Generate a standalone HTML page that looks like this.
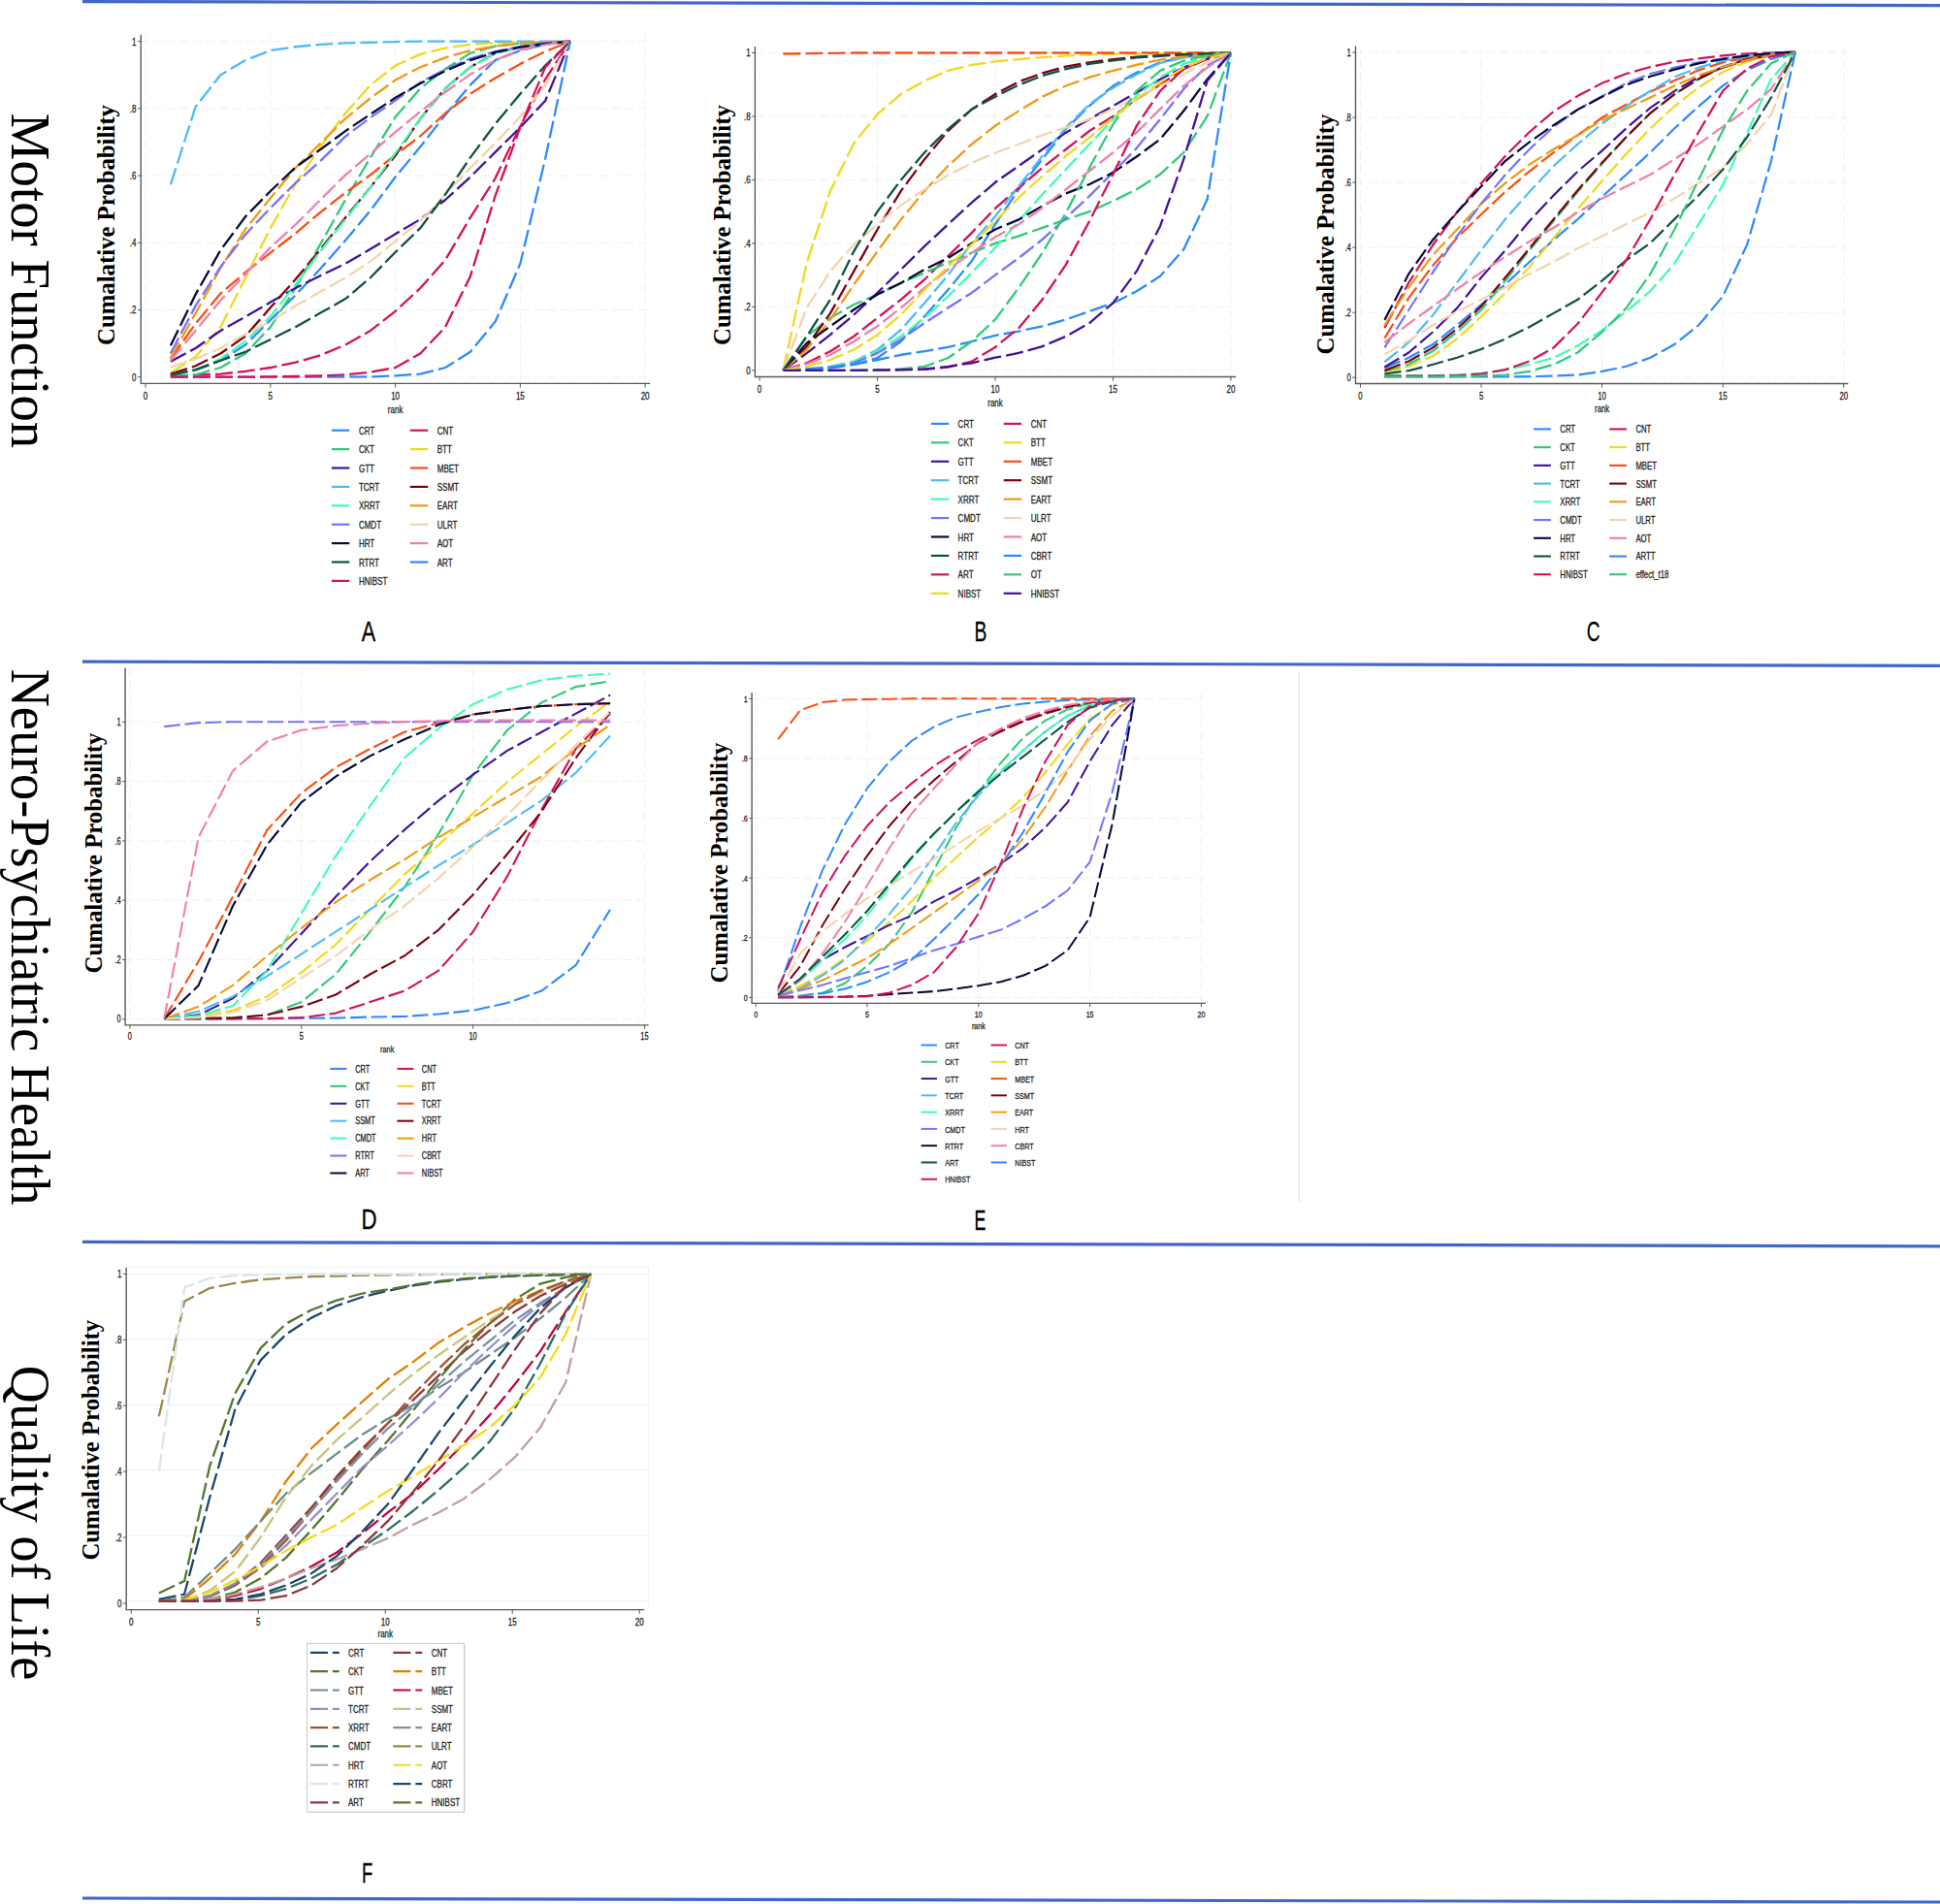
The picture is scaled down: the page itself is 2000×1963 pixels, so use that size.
<!DOCTYPE html>
<html lang="en"><head><meta charset="utf-8"><title>SUCRA cumulative probability plots</title>
<style>html,body{margin:0;padding:0;background:#fff}svg{display:block}</style></head>
<body>
<svg width="2000" height="1963" viewBox="0 0 2000 1963">
<rect width="2000" height="1963" fill="#ffffff"/>
<line x1="85" y1="1.6" x2="2000" y2="5.7" stroke="#4067c8" stroke-width="3.2"/>
<line x1="85" y1="682.1" x2="2000" y2="686.4" stroke="#4067c8" stroke-width="3.2"/>
<line x1="85" y1="1280.4" x2="2000" y2="1284.8" stroke="#4067c8" stroke-width="3.2"/>
<line x1="85" y1="1957.0" x2="2000" y2="1961.0" stroke="#4067c8" stroke-width="3.2"/>
<line x1="1339.2" y1="693.7" x2="1339.2" y2="1239" stroke="#dedede" stroke-width="1.1"/>
<text transform="translate(12.3,289.5) rotate(90) scale(1,1.045)" font-family='"Liberation Serif", serif' font-size="54.5" text-anchor="middle" textLength="345.3" lengthAdjust="spacingAndGlyphs" fill="#000">Motor Function</text>
<text transform="translate(12.3,966) rotate(90) scale(1,1.045)" font-family='"Liberation Serif", serif' font-size="54.5" text-anchor="middle" textLength="552.6" lengthAdjust="spacingAndGlyphs" fill="#000">Neuro-Psychiatric Health</text>
<text transform="translate(12.3,1570) rotate(90) scale(1,1.045)" font-family='"Liberation Serif", serif' font-size="54.5" text-anchor="middle" textLength="324.3" lengthAdjust="spacingAndGlyphs" fill="#000">Quality of Life</text>
<g id="chartA">
<line x1="145.3" y1="388.7" x2="667.9" y2="388.7" stroke="#f0f0f0" stroke-width="1" stroke-dasharray="9 4.5"/>
<line x1="145.3" y1="319.5" x2="667.9" y2="319.5" stroke="#f0f0f0" stroke-width="1" stroke-dasharray="9 4.5"/>
<line x1="145.3" y1="250.3" x2="667.9" y2="250.3" stroke="#f0f0f0" stroke-width="1" stroke-dasharray="9 4.5"/>
<line x1="145.3" y1="181.1" x2="667.9" y2="181.1" stroke="#f0f0f0" stroke-width="1" stroke-dasharray="9 4.5"/>
<line x1="145.3" y1="111.9" x2="667.9" y2="111.9" stroke="#f0f0f0" stroke-width="1" stroke-dasharray="9 4.5"/>
<line x1="145.3" y1="42.7" x2="667.9" y2="42.7" stroke="#f0f0f0" stroke-width="1" stroke-dasharray="9 4.5"/>
<line x1="150.1" y1="35.7" x2="150.1" y2="395.4" stroke="#f0f0f0" stroke-width="1" stroke-dasharray="9 4.5"/>
<line x1="278.85" y1="35.7" x2="278.85" y2="395.4" stroke="#f0f0f0" stroke-width="1" stroke-dasharray="9 4.5"/>
<line x1="407.6" y1="35.7" x2="407.6" y2="395.4" stroke="#f0f0f0" stroke-width="1" stroke-dasharray="9 4.5"/>
<line x1="536.35" y1="35.7" x2="536.35" y2="395.4" stroke="#f0f0f0" stroke-width="1" stroke-dasharray="9 4.5"/>
<line x1="665.1" y1="35.7" x2="665.1" y2="395.4" stroke="#f0f0f0" stroke-width="1" stroke-dasharray="9 4.5"/>
<path d="M145.3 35.7 V395.4 H670.3" fill="none" stroke="#5a5a5a" stroke-width="1.4"/>
<line x1="142.01" y1="388.7" x2="145.3" y2="388.7" stroke="#5a5a5a" stroke-width="1"/>
<text transform="translate(140.51,392.62) scale(0.73,1)" font-family='"Liberation Sans", sans-serif' font-size="10.99" text-anchor="end" fill="#1c1c1c" stroke="#1c1c1c" stroke-width="0.28">0</text>
<line x1="142.01" y1="319.5" x2="145.3" y2="319.5" stroke="#5a5a5a" stroke-width="1"/>
<text transform="translate(140.51,323.42) scale(0.73,1)" font-family='"Liberation Sans", sans-serif' font-size="10.99" text-anchor="end" fill="#1c1c1c" stroke="#1c1c1c" stroke-width="0.28">.2</text>
<line x1="142.01" y1="250.3" x2="145.3" y2="250.3" stroke="#5a5a5a" stroke-width="1"/>
<text transform="translate(140.51,254.22) scale(0.73,1)" font-family='"Liberation Sans", sans-serif' font-size="10.99" text-anchor="end" fill="#1c1c1c" stroke="#1c1c1c" stroke-width="0.28">.4</text>
<line x1="142.01" y1="181.1" x2="145.3" y2="181.1" stroke="#5a5a5a" stroke-width="1"/>
<text transform="translate(140.51,185.02) scale(0.73,1)" font-family='"Liberation Sans", sans-serif' font-size="10.99" text-anchor="end" fill="#1c1c1c" stroke="#1c1c1c" stroke-width="0.28">.6</text>
<line x1="142.01" y1="111.9" x2="145.3" y2="111.9" stroke="#5a5a5a" stroke-width="1"/>
<text transform="translate(140.51,115.82) scale(0.73,1)" font-family='"Liberation Sans", sans-serif' font-size="10.99" text-anchor="end" fill="#1c1c1c" stroke="#1c1c1c" stroke-width="0.28">.8</text>
<line x1="142.01" y1="42.7" x2="145.3" y2="42.7" stroke="#5a5a5a" stroke-width="1"/>
<text transform="translate(140.51,46.62) scale(0.73,1)" font-family='"Liberation Sans", sans-serif' font-size="10.99" text-anchor="end" fill="#1c1c1c" stroke="#1c1c1c" stroke-width="0.28">1</text>
<line x1="150.1" y1="395.4" x2="150.1" y2="399.59" stroke="#5a5a5a" stroke-width="1"/>
<text transform="translate(150.1,411.91) scale(0.73,1)" font-family='"Liberation Sans", sans-serif' font-size="10.99" text-anchor="middle" fill="#1c1c1c" stroke="#1c1c1c" stroke-width="0.28">0</text>
<line x1="278.85" y1="395.4" x2="278.85" y2="399.59" stroke="#5a5a5a" stroke-width="1"/>
<text transform="translate(278.85,411.91) scale(0.73,1)" font-family='"Liberation Sans", sans-serif' font-size="10.99" text-anchor="middle" fill="#1c1c1c" stroke="#1c1c1c" stroke-width="0.28">5</text>
<line x1="407.6" y1="395.4" x2="407.6" y2="399.59" stroke="#5a5a5a" stroke-width="1"/>
<text transform="translate(407.6,411.91) scale(0.73,1)" font-family='"Liberation Sans", sans-serif' font-size="10.99" text-anchor="middle" fill="#1c1c1c" stroke="#1c1c1c" stroke-width="0.28">10</text>
<line x1="536.35" y1="395.4" x2="536.35" y2="399.59" stroke="#5a5a5a" stroke-width="1"/>
<text transform="translate(536.35,411.91) scale(0.73,1)" font-family='"Liberation Sans", sans-serif' font-size="10.99" text-anchor="middle" fill="#1c1c1c" stroke="#1c1c1c" stroke-width="0.28">15</text>
<line x1="665.1" y1="395.4" x2="665.1" y2="399.59" stroke="#5a5a5a" stroke-width="1"/>
<text transform="translate(665.1,411.91) scale(0.73,1)" font-family='"Liberation Sans", sans-serif' font-size="10.99" text-anchor="middle" fill="#1c1c1c" stroke="#1c1c1c" stroke-width="0.28">20</text>
<text transform="translate(407.6,425.96) scale(0.74,1)" font-family='"Liberation Sans", sans-serif' font-size="10.79" text-anchor="middle" fill="#1c1c1c" stroke="#1c1c1c" stroke-width="0.28">rank</text>
<polyline points="175.85,386.28 201.6,381.78 227.35,371.75 253.1,355.48 278.85,329.88 304.6,304.28 330.35,276.94 356.1,247.88 381.85,217.08 407.6,182.48 433.35,151.34 459.1,118.47 484.85,87.68 510.6,62.08 536.35,52.04 562.1,45.81 587.85,42.7" fill="none" stroke="#2c8aff" stroke-width="2.3" stroke-dasharray="17.96 5.09" stroke-linejoin="round"/>
<polyline points="175.85,387.32 201.6,386.62 227.35,385.59 253.1,382.82 278.85,379.01 304.6,373.65 330.35,366.21 356.1,355.48 381.85,340.95 407.6,320.88 433.35,297.01 459.1,267.95 484.85,224.35 510.6,183.87 536.35,129.89 562.1,81.8 587.85,42.7" fill="none" stroke="#d41159" stroke-width="2.3" stroke-dasharray="17.96 5.09" stroke-linejoin="round"/>
<polyline points="175.85,388.01 201.6,386.28 227.35,379.01 253.1,364.48 278.85,337.15 304.6,297.01 330.35,251.68 356.1,206.01 381.85,162.42 407.6,120.55 433.35,91.14 459.1,71.07 484.85,54.81 510.6,47.54 536.35,44.43 562.1,43.39 587.85,42.7" fill="none" stroke="#30ca78" stroke-width="2.3" stroke-dasharray="17.96 5.09" stroke-linejoin="round"/>
<polyline points="175.85,384.55 201.6,367.94 227.35,337.15 253.1,286.28 278.85,235.08 304.6,189.75 330.35,151.34 356.1,116.74 381.85,87.68 407.6,67.61 433.35,55.85 459.1,49.62 484.85,45.81 510.6,44.08 536.35,43.39 562.1,43.05 587.85,42.7" fill="none" stroke="#f0d91c" stroke-width="2.3" stroke-dasharray="17.96 5.09" stroke-linejoin="round"/>
<polyline points="175.85,372.78 201.6,358.94 227.35,340.95 253.1,326.42 278.85,311.54 304.6,297.01 330.35,284.21 356.1,271.75 381.85,256.87 407.6,241.3 433.35,226.08 459.1,206.01 484.85,182.48 510.6,156.88 536.35,131.28 562.1,103.94 587.85,42.7" fill="none" stroke="#40129c" stroke-width="2.3" stroke-dasharray="17.96 5.09" stroke-linejoin="round"/>
<polyline points="175.85,370.02 201.6,333.69 227.35,302.55 253.1,280.75 278.85,260.68 304.6,240.61 330.35,218.81 356.1,198.75 381.85,180.41 407.6,159.65 433.35,140.27 459.1,116.74 484.85,96.68 510.6,80.41 536.35,65.88 562.1,53.08 587.85,42.7" fill="none" stroke="#fa4d14" stroke-width="2.3" stroke-dasharray="17.96 5.09" stroke-linejoin="round"/>
<polyline points="175.85,190.44 201.6,110.17 227.35,77.3 253.1,62.08 278.85,52.04 304.6,48.24 330.35,45.81 356.1,44.43 381.85,43.74 407.6,43.05 433.35,42.7 459.1,42.7 484.85,42.7 510.6,42.7 536.35,42.7 562.1,42.7 587.85,42.7" fill="none" stroke="#4dbbf7" stroke-width="2.3" stroke-dasharray="17.96 5.09" stroke-linejoin="round"/>
<polyline points="175.85,385.59 201.6,377.28 227.35,364.48 253.1,346.49 278.85,317.08 304.6,288.01 330.35,257.22 356.1,224.35 381.85,193.21 407.6,160.34 433.35,122.28 459.1,91.14 484.85,69.34 510.6,54.81 536.35,48.58 562.1,44.43 587.85,42.7" fill="none" stroke="#800012" stroke-width="2.3" stroke-dasharray="17.96 5.09" stroke-linejoin="round"/>
<polyline points="175.85,386.97 201.6,381.78 227.35,370.02 253.1,351.68 278.85,326.42 304.6,293.55 330.35,258.95 356.1,226.08 381.85,193.21 407.6,157.92 433.35,122.28 459.1,91.14 484.85,69.34 510.6,54.81 536.35,48.58 562.1,44.43 587.85,42.7" fill="none" stroke="#3dfdb0" stroke-width="2.3" stroke-dasharray="17.96 5.09" stroke-linejoin="round"/>
<polyline points="175.85,368.98 201.6,322.96 227.35,276.25 253.1,236.11 278.85,204.28 304.6,173.14 330.35,147.88 356.1,122.28 381.85,101.17 407.6,82.49 433.35,69.34 459.1,59.31 484.85,52.04 510.6,47.54 536.35,45.12 562.1,43.39 587.85,42.7" fill="none" stroke="#f09a12" stroke-width="2.3" stroke-dasharray="17.96 5.09" stroke-linejoin="round"/>
<polyline points="175.85,364.48 201.6,315.35 227.35,275.21 253.1,241.65 278.85,214.32 304.6,188.71 330.35,165.88 356.1,140.62 381.85,121.24 407.6,103.6 433.35,84.91 459.1,71.42 484.85,60.35 510.6,53.08 536.35,47.89 562.1,44.43 587.85,42.7" fill="none" stroke="#7373ff" stroke-width="2.3" stroke-dasharray="17.96 5.09" stroke-linejoin="round"/>
<polyline points="175.85,378.32 201.6,370.02 227.35,358.94 253.1,344.41 278.85,331.61 304.6,315.35 330.35,300.82 356.1,286.28 381.85,269.68 407.6,248.57 433.35,227.81 459.1,200.48 484.85,173.14 510.6,147.54 536.35,120.2 562.1,87.68 587.85,42.7" fill="none" stroke="#f5d3ab" stroke-width="2.3" stroke-dasharray="17.96 5.09" stroke-linejoin="round"/>
<polyline points="175.85,356.35 201.6,303.58 227.35,257.91 253.1,223.31 278.85,197.02 304.6,172.45 330.35,154.11 356.1,135.08 381.85,117.78 407.6,100.83 433.35,85.95 459.1,73.15 484.85,62.08 510.6,53.77 536.35,48.58 562.1,45.12 587.85,42.7" fill="none" stroke="#060a3c" stroke-width="2.3" stroke-dasharray="17.96 5.09" stroke-linejoin="round"/>
<polyline points="175.85,371.75 201.6,340.95 227.35,309.81 253.1,282.48 278.85,255.14 304.6,231.62 330.35,206.01 356.1,180.41 381.85,158.61 407.6,136.12 433.35,115.01 459.1,94.95 484.85,76.61 510.6,62.08 536.35,51.35 562.1,46.16 587.85,42.7" fill="none" stroke="#f07fa8" stroke-width="2.3" stroke-dasharray="17.96 5.09" stroke-linejoin="round"/>
<polyline points="175.85,386.97 201.6,381.09 227.35,371.75 253.1,362.75 278.85,349.95 304.6,337.15 330.35,322.61 356.1,308.08 381.85,286.28 407.6,259.99 433.35,235.08 459.1,200.48 484.85,162.42 510.6,127.82 536.35,96.68 562.1,67.61 587.85,42.7" fill="none" stroke="#0e5245" stroke-width="2.3" stroke-dasharray="17.96 5.09" stroke-linejoin="round"/>
<polyline points="175.85,388.7 201.6,388.7 227.35,388.7 253.1,388.7 278.85,388.7 304.6,388.7 330.35,388.7 356.1,388.7 381.85,388.35 407.6,387.32 433.35,385.59 459.1,379.01 484.85,362.75 510.6,331.61 536.35,271.75 562.1,163.8 587.85,42.7" fill="none" stroke="#2c8aff" stroke-width="2.3" stroke-dasharray="17.96 5.09" stroke-linejoin="round"/>
<polyline points="175.85,388.7 201.6,388.7 227.35,388.7 253.1,388.7 278.85,388.35 304.6,388.01 330.35,387.32 356.1,386.28 381.85,383.68 407.6,379.01 433.35,364.48 459.1,337.15 484.85,284.9 510.6,201.86 536.35,130.93 562.1,69.34 587.85,42.7" fill="none" stroke="#d41159" stroke-width="2.3" stroke-dasharray="17.96 5.09" stroke-linejoin="round"/>
<line x1="341.9" y1="443.7" x2="360.26" y2="443.7" stroke="#2c8aff" stroke-width="2.2"/>
<text transform="translate(369.9,447.74) scale(0.725,1)" font-family='"Liberation Sans", sans-serif' font-size="11.08" text-anchor="start" fill="#1c1c1c" stroke="#1c1c1c" stroke-width="0.28">CRT</text>
<line x1="422.8" y1="443.7" x2="441.16" y2="443.7" stroke="#d41159" stroke-width="2.2"/>
<text transform="translate(450.7,447.74) scale(0.725,1)" font-family='"Liberation Sans", sans-serif' font-size="11.08" text-anchor="start" fill="#1c1c1c" stroke="#1c1c1c" stroke-width="0.28">CNT</text>
<line x1="341.9" y1="463.1" x2="360.26" y2="463.1" stroke="#30ca78" stroke-width="2.2"/>
<text transform="translate(369.9,467.14) scale(0.725,1)" font-family='"Liberation Sans", sans-serif' font-size="11.08" text-anchor="start" fill="#1c1c1c" stroke="#1c1c1c" stroke-width="0.28">CKT</text>
<line x1="422.8" y1="463.1" x2="441.16" y2="463.1" stroke="#f0d91c" stroke-width="2.2"/>
<text transform="translate(450.7,467.14) scale(0.725,1)" font-family='"Liberation Sans", sans-serif' font-size="11.08" text-anchor="start" fill="#1c1c1c" stroke="#1c1c1c" stroke-width="0.28">BTT</text>
<line x1="341.9" y1="482.5" x2="360.26" y2="482.5" stroke="#40129c" stroke-width="2.2"/>
<text transform="translate(369.9,486.54) scale(0.725,1)" font-family='"Liberation Sans", sans-serif' font-size="11.08" text-anchor="start" fill="#1c1c1c" stroke="#1c1c1c" stroke-width="0.28">GTT</text>
<line x1="422.8" y1="482.5" x2="441.16" y2="482.5" stroke="#fa4d14" stroke-width="2.2"/>
<text transform="translate(450.7,486.54) scale(0.725,1)" font-family='"Liberation Sans", sans-serif' font-size="11.08" text-anchor="start" fill="#1c1c1c" stroke="#1c1c1c" stroke-width="0.28">MBET</text>
<line x1="341.9" y1="501.9" x2="360.26" y2="501.9" stroke="#4dbbf7" stroke-width="2.2"/>
<text transform="translate(369.9,505.94) scale(0.725,1)" font-family='"Liberation Sans", sans-serif' font-size="11.08" text-anchor="start" fill="#1c1c1c" stroke="#1c1c1c" stroke-width="0.28">TCRT</text>
<line x1="422.8" y1="501.9" x2="441.16" y2="501.9" stroke="#800012" stroke-width="2.2"/>
<text transform="translate(450.7,505.94) scale(0.725,1)" font-family='"Liberation Sans", sans-serif' font-size="11.08" text-anchor="start" fill="#1c1c1c" stroke="#1c1c1c" stroke-width="0.28">SSMT</text>
<line x1="341.9" y1="521.3" x2="360.26" y2="521.3" stroke="#3dfdb0" stroke-width="2.2"/>
<text transform="translate(369.9,525.34) scale(0.725,1)" font-family='"Liberation Sans", sans-serif' font-size="11.08" text-anchor="start" fill="#1c1c1c" stroke="#1c1c1c" stroke-width="0.28">XRRT</text>
<line x1="422.8" y1="521.3" x2="441.16" y2="521.3" stroke="#f09a12" stroke-width="2.2"/>
<text transform="translate(450.7,525.34) scale(0.725,1)" font-family='"Liberation Sans", sans-serif' font-size="11.08" text-anchor="start" fill="#1c1c1c" stroke="#1c1c1c" stroke-width="0.28">EART</text>
<line x1="341.9" y1="540.7" x2="360.26" y2="540.7" stroke="#7373ff" stroke-width="2.2"/>
<text transform="translate(369.9,544.74) scale(0.725,1)" font-family='"Liberation Sans", sans-serif' font-size="11.08" text-anchor="start" fill="#1c1c1c" stroke="#1c1c1c" stroke-width="0.28">CMDT</text>
<line x1="422.8" y1="540.7" x2="441.16" y2="540.7" stroke="#f5d3ab" stroke-width="2.2"/>
<text transform="translate(450.7,544.74) scale(0.725,1)" font-family='"Liberation Sans", sans-serif' font-size="11.08" text-anchor="start" fill="#1c1c1c" stroke="#1c1c1c" stroke-width="0.28">ULRT</text>
<line x1="341.9" y1="560.1" x2="360.26" y2="560.1" stroke="#060a3c" stroke-width="2.2"/>
<text transform="translate(369.9,564.14) scale(0.725,1)" font-family='"Liberation Sans", sans-serif' font-size="11.08" text-anchor="start" fill="#1c1c1c" stroke="#1c1c1c" stroke-width="0.28">HRT</text>
<line x1="422.8" y1="560.1" x2="441.16" y2="560.1" stroke="#f07fa8" stroke-width="2.2"/>
<text transform="translate(450.7,564.14) scale(0.725,1)" font-family='"Liberation Sans", sans-serif' font-size="11.08" text-anchor="start" fill="#1c1c1c" stroke="#1c1c1c" stroke-width="0.28">AOT</text>
<line x1="341.9" y1="579.5" x2="360.26" y2="579.5" stroke="#0e5245" stroke-width="2.2"/>
<text transform="translate(369.9,583.54) scale(0.725,1)" font-family='"Liberation Sans", sans-serif' font-size="11.08" text-anchor="start" fill="#1c1c1c" stroke="#1c1c1c" stroke-width="0.28">RTRT</text>
<line x1="422.8" y1="579.5" x2="441.16" y2="579.5" stroke="#2c8aff" stroke-width="2.2"/>
<text transform="translate(450.7,583.54) scale(0.725,1)" font-family='"Liberation Sans", sans-serif' font-size="11.08" text-anchor="start" fill="#1c1c1c" stroke="#1c1c1c" stroke-width="0.28">ART</text>
<line x1="341.9" y1="598.9" x2="360.26" y2="598.9" stroke="#d41159" stroke-width="2.2"/>
<text transform="translate(369.9,602.94) scale(0.725,1)" font-family='"Liberation Sans", sans-serif' font-size="11.08" text-anchor="start" fill="#1c1c1c" stroke="#1c1c1c" stroke-width="0.28">HNIBST</text>
<text transform="translate(379.9,661) scale(0.74,1)" font-family='"Liberation Sans", sans-serif' font-size="29.3" text-anchor="middle" fill="#000" stroke="#000" stroke-width="0.28">A</text>
<text transform="translate(118.4,232.1) rotate(-90)" font-family='"Liberation Serif", serif' font-weight="bold" font-size="24.7" text-anchor="middle" textLength="247.8" lengthAdjust="spacingAndGlyphs" fill="#000">Cumalative Probability</text>
</g>
<g id="chartB">
<line x1="778.4" y1="381.8" x2="1271.7" y2="381.8" stroke="#f0f0f0" stroke-width="1" stroke-dasharray="9 4.5"/>
<line x1="778.4" y1="316.34" x2="1271.7" y2="316.34" stroke="#f0f0f0" stroke-width="1" stroke-dasharray="9 4.5"/>
<line x1="778.4" y1="250.88" x2="1271.7" y2="250.88" stroke="#f0f0f0" stroke-width="1" stroke-dasharray="9 4.5"/>
<line x1="778.4" y1="185.42" x2="1271.7" y2="185.42" stroke="#f0f0f0" stroke-width="1" stroke-dasharray="9 4.5"/>
<line x1="778.4" y1="119.96" x2="1271.7" y2="119.96" stroke="#f0f0f0" stroke-width="1" stroke-dasharray="9 4.5"/>
<line x1="778.4" y1="54.5" x2="1271.7" y2="54.5" stroke="#f0f0f0" stroke-width="1" stroke-dasharray="9 4.5"/>
<line x1="783.1" y1="47.9" x2="783.1" y2="388.5" stroke="#f0f0f0" stroke-width="1" stroke-dasharray="9 4.5"/>
<line x1="904.55" y1="47.9" x2="904.55" y2="388.5" stroke="#f0f0f0" stroke-width="1" stroke-dasharray="9 4.5"/>
<line x1="1026" y1="47.9" x2="1026" y2="388.5" stroke="#f0f0f0" stroke-width="1" stroke-dasharray="9 4.5"/>
<line x1="1147.45" y1="47.9" x2="1147.45" y2="388.5" stroke="#f0f0f0" stroke-width="1" stroke-dasharray="9 4.5"/>
<line x1="1268.9" y1="47.9" x2="1268.9" y2="388.5" stroke="#f0f0f0" stroke-width="1" stroke-dasharray="9 4.5"/>
<path d="M778.4 47.9 V388.5 H1274.1" fill="none" stroke="#5a5a5a" stroke-width="1.4"/>
<line x1="775.1" y1="381.8" x2="778.4" y2="381.8" stroke="#5a5a5a" stroke-width="1"/>
<text transform="translate(773.6,385.73) scale(0.73,1)" font-family='"Liberation Sans", sans-serif' font-size="11.02" text-anchor="end" fill="#1c1c1c" stroke="#1c1c1c" stroke-width="0.28">0</text>
<line x1="775.1" y1="316.34" x2="778.4" y2="316.34" stroke="#5a5a5a" stroke-width="1"/>
<text transform="translate(773.6,320.27) scale(0.73,1)" font-family='"Liberation Sans", sans-serif' font-size="11.02" text-anchor="end" fill="#1c1c1c" stroke="#1c1c1c" stroke-width="0.28">.2</text>
<line x1="775.1" y1="250.88" x2="778.4" y2="250.88" stroke="#5a5a5a" stroke-width="1"/>
<text transform="translate(773.6,254.81) scale(0.73,1)" font-family='"Liberation Sans", sans-serif' font-size="11.02" text-anchor="end" fill="#1c1c1c" stroke="#1c1c1c" stroke-width="0.28">.4</text>
<line x1="775.1" y1="185.42" x2="778.4" y2="185.42" stroke="#5a5a5a" stroke-width="1"/>
<text transform="translate(773.6,189.35) scale(0.73,1)" font-family='"Liberation Sans", sans-serif' font-size="11.02" text-anchor="end" fill="#1c1c1c" stroke="#1c1c1c" stroke-width="0.28">.6</text>
<line x1="775.1" y1="119.96" x2="778.4" y2="119.96" stroke="#5a5a5a" stroke-width="1"/>
<text transform="translate(773.6,123.89) scale(0.73,1)" font-family='"Liberation Sans", sans-serif' font-size="11.02" text-anchor="end" fill="#1c1c1c" stroke="#1c1c1c" stroke-width="0.28">.8</text>
<line x1="775.1" y1="54.5" x2="778.4" y2="54.5" stroke="#5a5a5a" stroke-width="1"/>
<text transform="translate(773.6,58.43) scale(0.73,1)" font-family='"Liberation Sans", sans-serif' font-size="11.02" text-anchor="end" fill="#1c1c1c" stroke="#1c1c1c" stroke-width="0.28">1</text>
<line x1="783.1" y1="388.5" x2="783.1" y2="392.7" stroke="#5a5a5a" stroke-width="1"/>
<text transform="translate(783.1,405.12) scale(0.73,1)" font-family='"Liberation Sans", sans-serif' font-size="11.02" text-anchor="middle" fill="#1c1c1c" stroke="#1c1c1c" stroke-width="0.28">0</text>
<line x1="904.55" y1="388.5" x2="904.55" y2="392.7" stroke="#5a5a5a" stroke-width="1"/>
<text transform="translate(904.55,405.12) scale(0.73,1)" font-family='"Liberation Sans", sans-serif' font-size="11.02" text-anchor="middle" fill="#1c1c1c" stroke="#1c1c1c" stroke-width="0.28">5</text>
<line x1="1026" y1="388.5" x2="1026" y2="392.7" stroke="#5a5a5a" stroke-width="1"/>
<text transform="translate(1026,405.12) scale(0.73,1)" font-family='"Liberation Sans", sans-serif' font-size="11.02" text-anchor="middle" fill="#1c1c1c" stroke="#1c1c1c" stroke-width="0.28">10</text>
<line x1="1147.45" y1="388.5" x2="1147.45" y2="392.7" stroke="#5a5a5a" stroke-width="1"/>
<text transform="translate(1147.45,405.12) scale(0.73,1)" font-family='"Liberation Sans", sans-serif' font-size="11.02" text-anchor="middle" fill="#1c1c1c" stroke="#1c1c1c" stroke-width="0.28">15</text>
<line x1="1268.9" y1="388.5" x2="1268.9" y2="392.7" stroke="#5a5a5a" stroke-width="1"/>
<text transform="translate(1268.9,405.12) scale(0.73,1)" font-family='"Liberation Sans", sans-serif' font-size="11.02" text-anchor="middle" fill="#1c1c1c" stroke="#1c1c1c" stroke-width="0.28">20</text>
<text transform="translate(1026,418.66) scale(0.74,1)" font-family='"Liberation Sans", sans-serif' font-size="10.81" text-anchor="middle" fill="#1c1c1c" stroke="#1c1c1c" stroke-width="0.28">rank</text>
<polyline points="807.39,381.8 831.68,380.82 855.97,379.51 880.26,375.91 904.55,369.04 928.84,352.02 953.13,326.16 977.42,298.67 1001.71,269.21 1026,231.24 1050.29,195.24 1074.58,164.15 1098.87,133.05 1123.16,109.16 1147.45,88.54 1171.74,74.79 1196.03,64.32 1220.32,59.08 1244.61,56.14 1268.9,54.5" fill="none" stroke="#2c8aff" stroke-width="2.3" stroke-dasharray="18 5.1" stroke-linejoin="round"/>
<polyline points="807.39,381.8 831.68,374.27 855.97,362.16 880.26,346.78 904.55,327.8 928.84,308.81 953.13,288.19 977.42,263.97 1001.71,240.08 1026,214.88 1050.29,193.6 1074.58,172.98 1098.87,154 1123.16,135.02 1147.45,119.96 1171.74,102.29 1196.03,87.23 1220.32,71.19 1244.61,61.05 1268.9,54.5" fill="none" stroke="#d41159" stroke-width="2.3" stroke-dasharray="18 5.1" stroke-linejoin="round"/>
<polyline points="807.39,381.8 831.68,346.78 855.97,327.8 880.26,314.05 904.55,303.58 928.84,291.79 953.13,281.32 977.42,270.85 1001.71,260.7 1026,250.88 1050.29,243.35 1074.58,234.84 1098.87,226.33 1123.16,218.15 1147.45,207.35 1171.74,195.24 1196.03,179.69 1220.32,157.27 1244.61,119.96 1268.9,54.5" fill="none" stroke="#30ca78" stroke-width="2.3" stroke-dasharray="18 5.1" stroke-linejoin="round"/>
<polyline points="807.39,381.8 831.68,271.17 855.97,196.88 880.26,147.78 904.55,117.67 928.84,97.05 953.13,83.3 977.42,72.83 1001.71,66.94 1026,63.34 1050.29,61.05 1074.58,59.08 1098.87,57.45 1123.16,56.46 1147.45,55.81 1171.74,55.48 1196.03,55.15 1220.32,54.83 1244.61,54.5 1268.9,54.5" fill="none" stroke="#f0d91c" stroke-width="2.3" stroke-dasharray="18 5.1" stroke-linejoin="round"/>
<polyline points="807.39,381.8 831.68,364.13 855.97,345.14 880.26,324.52 904.55,301.94 928.84,277.88 953.13,253.83 977.42,231.24 1001.71,208.99 1026,188.04 1050.29,171.02 1074.58,154 1098.87,136.65 1123.16,122.91 1147.45,109.16 1171.74,95.41 1196.03,81.67 1220.32,69.56 1244.61,60.06 1268.9,54.5" fill="none" stroke="#40129c" stroke-width="2.3" stroke-dasharray="18 5.1" stroke-linejoin="round"/>
<polyline points="807.39,55.48 831.68,55.15 855.97,54.83 880.26,54.5 904.55,54.5 928.84,54.5 953.13,54.5 977.42,54.5 1001.71,54.5 1026,54.5 1050.29,54.5 1074.58,54.5 1098.87,54.5 1123.16,54.5 1147.45,54.5 1171.74,54.5 1196.03,54.5 1220.32,54.5 1244.61,54.5 1268.9,54.5" fill="none" stroke="#fa4d14" stroke-width="2.3" stroke-dasharray="18 5.1" stroke-linejoin="round"/>
<polyline points="807.39,381.8 831.68,380.82 855.97,377.87 880.26,372.64 904.55,360.53 928.84,339.91 953.13,312.41 977.42,283.61 1001.71,250.88 1026,223.06 1050.29,191.97 1074.58,160.87 1098.87,131.42 1123.16,107.52 1147.45,90.5 1171.74,76.76 1196.03,64.97 1220.32,59.41 1244.61,56.14 1268.9,54.5" fill="none" stroke="#4dbbf7" stroke-width="2.3" stroke-dasharray="18 5.1" stroke-linejoin="round"/>
<polyline points="807.39,381.8 831.68,357.25 855.97,322.89 880.26,279.68 904.55,236.48 928.84,196.88 953.13,164.15 977.42,135.02 1001.71,112.76 1026,97.05 1050.29,84.28 1074.58,75.45 1098.87,68.57 1123.16,64.32 1147.45,61.05 1171.74,58.75 1196.03,57.12 1220.32,56.14 1244.61,55.15 1268.9,54.5" fill="none" stroke="#800012" stroke-width="2.3" stroke-dasharray="18 5.1" stroke-linejoin="round"/>
<polyline points="807.39,381.8 831.68,380.16 855.97,378.53 880.26,372.64 904.55,362.16 928.84,346.78 953.13,327.8 977.42,305.54 1001.71,281.32 1026,255.46 1050.29,227.97 1074.58,200.48 1098.87,174.62 1123.16,148.76 1147.45,122.91 1171.74,98.69 1196.03,79.7 1220.32,65.96 1244.61,58.43 1268.9,54.5" fill="none" stroke="#3dfdb0" stroke-width="2.3" stroke-dasharray="18 5.1" stroke-linejoin="round"/>
<polyline points="807.39,381.8 831.68,360.53 855.97,329.43 880.26,293.43 904.55,259.06 928.84,226.33 953.13,196.88 977.42,171.02 1001.71,148.76 1026,129.78 1050.29,114.4 1074.58,99.67 1098.87,88.54 1123.16,79.7 1147.45,72.83 1171.74,66.94 1196.03,61.7 1220.32,58.43 1244.61,56.14 1268.9,54.5" fill="none" stroke="#f09a12" stroke-width="2.3" stroke-dasharray="18 5.1" stroke-linejoin="round"/>
<polyline points="807.39,381.8 831.68,380.82 855.97,379.18 880.26,374.27 904.55,364.13 928.84,350.05 953.13,333.03 977.42,317.32 1001.71,301.94 1026,283.61 1050.29,265.94 1074.58,246.95 1098.87,224.7 1123.16,202.11 1147.45,177.89 1171.74,152.69 1196.03,122.91 1220.32,91.81 1244.61,67.59 1268.9,54.5" fill="none" stroke="#7373ff" stroke-width="2.3" stroke-dasharray="18 5.1" stroke-linejoin="round"/>
<polyline points="807.39,381.8 831.68,317.32 855.97,279.68 880.26,252.19 904.55,231.24 928.84,211.6 953.13,195.24 977.42,180.51 1001.71,168.07 1026,157.6 1050.29,148.76 1074.58,139.27 1098.87,131.42 1123.16,122.91 1147.45,112.43 1171.74,100.65 1196.03,88.54 1220.32,76.43 1244.61,64.32 1268.9,54.5" fill="none" stroke="#f5d3ab" stroke-width="2.3" stroke-dasharray="18 5.1" stroke-linejoin="round"/>
<polyline points="807.39,381.8 831.68,353.65 855.97,336.31 880.26,319.29 904.55,303.58 928.84,291.79 953.13,277.88 977.42,265.94 1001.71,250.88 1026,236.48 1050.29,226.33 1074.58,212.42 1098.87,199.49 1123.16,190 1147.45,177.89 1171.74,161.53 1196.03,143.53 1220.32,114.23 1244.61,81.67 1268.9,54.5" fill="none" stroke="#060a3c" stroke-width="2.3" stroke-dasharray="18 5.1" stroke-linejoin="round"/>
<polyline points="807.39,381.8 831.68,375.25 855.97,365.76 880.26,352.02 904.55,336.31 928.84,317.32 953.13,296.7 977.42,277.88 1001.71,260.7 1026,244.33 1050.29,231.24 1074.58,214.22 1098.87,195.24 1123.16,176.26 1147.45,157.27 1171.74,136.65 1196.03,112.43 1220.32,88.54 1244.61,69.56 1268.9,54.5" fill="none" stroke="#f07fa8" stroke-width="2.3" stroke-dasharray="18 5.1" stroke-linejoin="round"/>
<polyline points="807.39,381.8 831.68,346.78 855.97,308.81 880.26,259.06 904.55,218.15 928.84,185.42 953.13,157.27 977.42,133.05 1001.71,112.76 1026,99.67 1050.29,87.56 1074.58,78.07 1098.87,71.19 1123.16,65.96 1147.45,62.36 1171.74,59.41 1196.03,57.77 1220.32,56.46 1244.61,55.48 1268.9,54.5" fill="none" stroke="#0e5245" stroke-width="2.3" stroke-dasharray="18 5.1" stroke-linejoin="round"/>
<polyline points="807.39,381.8 831.68,380.49 855.97,378.53 880.26,375.91 904.55,371 928.84,365.76 953.13,362.16 977.42,357.91 1001.71,352.02 1026,345.8 1050.29,341.54 1074.58,336.31 1098.87,329.43 1123.16,320.92 1147.45,312.41 1171.74,300.3 1196.03,284.76 1220.32,257.1 1244.61,205.55 1268.9,54.5" fill="none" stroke="#2c8aff" stroke-width="2.3" stroke-dasharray="18 5.1" stroke-linejoin="round"/>
<polyline points="807.39,381.8 831.68,381.8 855.97,381.8 880.26,381.8 904.55,381.8 928.84,381.47 953.13,380.82 977.42,378.53 1001.71,372.64 1026,357.91 1050.29,338.27 1074.58,308.81 1098.87,272.81 1123.16,227.97 1147.45,179.69 1171.74,129.78 1196.03,93.78 1220.32,71.19 1244.61,59.41 1268.9,54.5" fill="none" stroke="#d41159" stroke-width="2.3" stroke-dasharray="18 5.1" stroke-linejoin="round"/>
<polyline points="807.39,381.8 831.68,381.8 855.97,381.8 880.26,381.8 904.55,381.47 928.84,380.49 953.13,377.87 977.42,369.04 1001.71,352.02 1026,329.43 1050.29,296.7 1074.58,260.7 1098.87,219.46 1123.16,172.98 1147.45,128.14 1171.74,93.78 1196.03,72.83 1220.32,62.68 1244.61,57.12 1268.9,54.5" fill="none" stroke="#30ca78" stroke-width="2.3" stroke-dasharray="18 5.1" stroke-linejoin="round"/>
<polyline points="807.39,381.8 831.68,377.87 855.97,371 880.26,360.53 904.55,345.14 928.84,324.52 953.13,298.67 977.42,274.45 1001.71,252.19 1026,227.97 1050.29,203.75 1074.58,181.49 1098.87,160.87 1123.16,141.89 1147.45,121.27 1171.74,102.29 1196.03,84.94 1220.32,69.56 1244.61,60.06 1268.9,54.5" fill="none" stroke="#f0d91c" stroke-width="2.3" stroke-dasharray="18 5.1" stroke-linejoin="round"/>
<polyline points="807.39,381.8 831.68,381.8 855.97,381.8 880.26,381.8 904.55,381.47 928.84,381.15 953.13,380.49 977.42,377.87 1001.71,374.27 1026,368.71 1050.29,363.96 1074.58,357.09 1098.87,346.78 1123.16,333.03 1147.45,312.41 1171.74,279.68 1196.03,233.21 1220.32,164.15 1244.61,83.3 1268.9,54.5" fill="none" stroke="#40129c" stroke-width="2.3" stroke-dasharray="18 5.1" stroke-linejoin="round"/>
<line x1="959.9" y1="436.9" x2="978.3" y2="436.9" stroke="#2c8aff" stroke-width="2.2"/>
<text transform="translate(987.6,440.95) scale(0.725,1)" font-family='"Liberation Sans", sans-serif' font-size="11.1" text-anchor="start" fill="#1c1c1c" stroke="#1c1c1c" stroke-width="0.28">CRT</text>
<line x1="1034.7" y1="436.9" x2="1053.1" y2="436.9" stroke="#d41159" stroke-width="2.2"/>
<text transform="translate(1062.7,440.95) scale(0.725,1)" font-family='"Liberation Sans", sans-serif' font-size="11.1" text-anchor="start" fill="#1c1c1c" stroke="#1c1c1c" stroke-width="0.28">CNT</text>
<line x1="959.9" y1="456.33" x2="978.3" y2="456.33" stroke="#30ca78" stroke-width="2.2"/>
<text transform="translate(987.6,460.38) scale(0.725,1)" font-family='"Liberation Sans", sans-serif' font-size="11.1" text-anchor="start" fill="#1c1c1c" stroke="#1c1c1c" stroke-width="0.28">CKT</text>
<line x1="1034.7" y1="456.33" x2="1053.1" y2="456.33" stroke="#f0d91c" stroke-width="2.2"/>
<text transform="translate(1062.7,460.38) scale(0.725,1)" font-family='"Liberation Sans", sans-serif' font-size="11.1" text-anchor="start" fill="#1c1c1c" stroke="#1c1c1c" stroke-width="0.28">BTT</text>
<line x1="959.9" y1="475.76" x2="978.3" y2="475.76" stroke="#40129c" stroke-width="2.2"/>
<text transform="translate(987.6,479.81) scale(0.725,1)" font-family='"Liberation Sans", sans-serif' font-size="11.1" text-anchor="start" fill="#1c1c1c" stroke="#1c1c1c" stroke-width="0.28">GTT</text>
<line x1="1034.7" y1="475.76" x2="1053.1" y2="475.76" stroke="#fa4d14" stroke-width="2.2"/>
<text transform="translate(1062.7,479.81) scale(0.725,1)" font-family='"Liberation Sans", sans-serif' font-size="11.1" text-anchor="start" fill="#1c1c1c" stroke="#1c1c1c" stroke-width="0.28">MBET</text>
<line x1="959.9" y1="495.19" x2="978.3" y2="495.19" stroke="#4dbbf7" stroke-width="2.2"/>
<text transform="translate(987.6,499.24) scale(0.725,1)" font-family='"Liberation Sans", sans-serif' font-size="11.1" text-anchor="start" fill="#1c1c1c" stroke="#1c1c1c" stroke-width="0.28">TCRT</text>
<line x1="1034.7" y1="495.19" x2="1053.1" y2="495.19" stroke="#800012" stroke-width="2.2"/>
<text transform="translate(1062.7,499.24) scale(0.725,1)" font-family='"Liberation Sans", sans-serif' font-size="11.1" text-anchor="start" fill="#1c1c1c" stroke="#1c1c1c" stroke-width="0.28">SSMT</text>
<line x1="959.9" y1="514.62" x2="978.3" y2="514.62" stroke="#3dfdb0" stroke-width="2.2"/>
<text transform="translate(987.6,518.67) scale(0.725,1)" font-family='"Liberation Sans", sans-serif' font-size="11.1" text-anchor="start" fill="#1c1c1c" stroke="#1c1c1c" stroke-width="0.28">XRRT</text>
<line x1="1034.7" y1="514.62" x2="1053.1" y2="514.62" stroke="#f09a12" stroke-width="2.2"/>
<text transform="translate(1062.7,518.67) scale(0.725,1)" font-family='"Liberation Sans", sans-serif' font-size="11.1" text-anchor="start" fill="#1c1c1c" stroke="#1c1c1c" stroke-width="0.28">EART</text>
<line x1="959.9" y1="534.05" x2="978.3" y2="534.05" stroke="#7373ff" stroke-width="2.2"/>
<text transform="translate(987.6,538.1) scale(0.725,1)" font-family='"Liberation Sans", sans-serif' font-size="11.1" text-anchor="start" fill="#1c1c1c" stroke="#1c1c1c" stroke-width="0.28">CMDT</text>
<line x1="1034.7" y1="534.05" x2="1053.1" y2="534.05" stroke="#f5d3ab" stroke-width="2.2"/>
<text transform="translate(1062.7,538.1) scale(0.725,1)" font-family='"Liberation Sans", sans-serif' font-size="11.1" text-anchor="start" fill="#1c1c1c" stroke="#1c1c1c" stroke-width="0.28">ULRT</text>
<line x1="959.9" y1="553.48" x2="978.3" y2="553.48" stroke="#060a3c" stroke-width="2.2"/>
<text transform="translate(987.6,557.53) scale(0.725,1)" font-family='"Liberation Sans", sans-serif' font-size="11.1" text-anchor="start" fill="#1c1c1c" stroke="#1c1c1c" stroke-width="0.28">HRT</text>
<line x1="1034.7" y1="553.48" x2="1053.1" y2="553.48" stroke="#f07fa8" stroke-width="2.2"/>
<text transform="translate(1062.7,557.53) scale(0.725,1)" font-family='"Liberation Sans", sans-serif' font-size="11.1" text-anchor="start" fill="#1c1c1c" stroke="#1c1c1c" stroke-width="0.28">AOT</text>
<line x1="959.9" y1="572.91" x2="978.3" y2="572.91" stroke="#0e5245" stroke-width="2.2"/>
<text transform="translate(987.6,576.96) scale(0.725,1)" font-family='"Liberation Sans", sans-serif' font-size="11.1" text-anchor="start" fill="#1c1c1c" stroke="#1c1c1c" stroke-width="0.28">RTRT</text>
<line x1="1034.7" y1="572.91" x2="1053.1" y2="572.91" stroke="#2c8aff" stroke-width="2.2"/>
<text transform="translate(1062.7,576.96) scale(0.725,1)" font-family='"Liberation Sans", sans-serif' font-size="11.1" text-anchor="start" fill="#1c1c1c" stroke="#1c1c1c" stroke-width="0.28">CBRT</text>
<line x1="959.9" y1="592.34" x2="978.3" y2="592.34" stroke="#d41159" stroke-width="2.2"/>
<text transform="translate(987.6,596.39) scale(0.725,1)" font-family='"Liberation Sans", sans-serif' font-size="11.1" text-anchor="start" fill="#1c1c1c" stroke="#1c1c1c" stroke-width="0.28">ART</text>
<line x1="1034.7" y1="592.34" x2="1053.1" y2="592.34" stroke="#30ca78" stroke-width="2.2"/>
<text transform="translate(1062.7,596.39) scale(0.725,1)" font-family='"Liberation Sans", sans-serif' font-size="11.1" text-anchor="start" fill="#1c1c1c" stroke="#1c1c1c" stroke-width="0.28">OT</text>
<line x1="959.9" y1="611.77" x2="978.3" y2="611.77" stroke="#f0d91c" stroke-width="2.2"/>
<text transform="translate(987.6,615.82) scale(0.725,1)" font-family='"Liberation Sans", sans-serif' font-size="11.1" text-anchor="start" fill="#1c1c1c" stroke="#1c1c1c" stroke-width="0.28">NIBST</text>
<line x1="1034.7" y1="611.77" x2="1053.1" y2="611.77" stroke="#40129c" stroke-width="2.2"/>
<text transform="translate(1062.7,615.82) scale(0.725,1)" font-family='"Liberation Sans", sans-serif' font-size="11.1" text-anchor="start" fill="#1c1c1c" stroke="#1c1c1c" stroke-width="0.28">HNIBST</text>
<text transform="translate(1011,660.7) scale(0.66,1)" font-family='"Liberation Sans", sans-serif' font-size="29.3" text-anchor="middle" fill="#000" stroke="#000" stroke-width="0.28">B</text>
<text transform="translate(753.4,232.1) rotate(-90)" font-family='"Liberation Serif", serif' font-weight="bold" font-size="24.7" text-anchor="middle" textLength="247.8" lengthAdjust="spacingAndGlyphs" fill="#000">Cumalative Probability</text>
</g>
<g id="chartC">
<line x1="1397.5" y1="389.2" x2="1903.5" y2="389.2" stroke="#f0f0f0" stroke-width="1" stroke-dasharray="9 4.5"/>
<line x1="1397.5" y1="322.16" x2="1903.5" y2="322.16" stroke="#f0f0f0" stroke-width="1" stroke-dasharray="9 4.5"/>
<line x1="1397.5" y1="255.12" x2="1903.5" y2="255.12" stroke="#f0f0f0" stroke-width="1" stroke-dasharray="9 4.5"/>
<line x1="1397.5" y1="188.08" x2="1903.5" y2="188.08" stroke="#f0f0f0" stroke-width="1" stroke-dasharray="9 4.5"/>
<line x1="1397.5" y1="121.04" x2="1903.5" y2="121.04" stroke="#f0f0f0" stroke-width="1" stroke-dasharray="9 4.5"/>
<line x1="1397.5" y1="54" x2="1903.5" y2="54" stroke="#f0f0f0" stroke-width="1" stroke-dasharray="9 4.5"/>
<line x1="1402.5" y1="47.4" x2="1402.5" y2="395.5" stroke="#f0f0f0" stroke-width="1" stroke-dasharray="9 4.5"/>
<line x1="1527.05" y1="47.4" x2="1527.05" y2="395.5" stroke="#f0f0f0" stroke-width="1" stroke-dasharray="9 4.5"/>
<line x1="1651.6" y1="47.4" x2="1651.6" y2="395.5" stroke="#f0f0f0" stroke-width="1" stroke-dasharray="9 4.5"/>
<line x1="1776.15" y1="47.4" x2="1776.15" y2="395.5" stroke="#f0f0f0" stroke-width="1" stroke-dasharray="9 4.5"/>
<line x1="1900.7" y1="47.4" x2="1900.7" y2="395.5" stroke="#f0f0f0" stroke-width="1" stroke-dasharray="9 4.5"/>
<path d="M1397.5 47.4 V395.5 H1905.3" fill="none" stroke="#5a5a5a" stroke-width="1.4"/>
<line x1="1394.32" y1="389.2" x2="1397.5" y2="389.2" stroke="#5a5a5a" stroke-width="1"/>
<text transform="translate(1392.87,392.99) scale(0.73,1)" font-family='"Liberation Sans", sans-serif' font-size="10.62" text-anchor="end" fill="#1c1c1c" stroke="#1c1c1c" stroke-width="0.28">0</text>
<line x1="1394.32" y1="322.16" x2="1397.5" y2="322.16" stroke="#5a5a5a" stroke-width="1"/>
<text transform="translate(1392.87,325.95) scale(0.73,1)" font-family='"Liberation Sans", sans-serif' font-size="10.62" text-anchor="end" fill="#1c1c1c" stroke="#1c1c1c" stroke-width="0.28">.2</text>
<line x1="1394.32" y1="255.12" x2="1397.5" y2="255.12" stroke="#5a5a5a" stroke-width="1"/>
<text transform="translate(1392.87,258.91) scale(0.73,1)" font-family='"Liberation Sans", sans-serif' font-size="10.62" text-anchor="end" fill="#1c1c1c" stroke="#1c1c1c" stroke-width="0.28">.4</text>
<line x1="1394.32" y1="188.08" x2="1397.5" y2="188.08" stroke="#5a5a5a" stroke-width="1"/>
<text transform="translate(1392.87,191.87) scale(0.73,1)" font-family='"Liberation Sans", sans-serif' font-size="10.62" text-anchor="end" fill="#1c1c1c" stroke="#1c1c1c" stroke-width="0.28">.6</text>
<line x1="1394.32" y1="121.04" x2="1397.5" y2="121.04" stroke="#5a5a5a" stroke-width="1"/>
<text transform="translate(1392.87,124.83) scale(0.73,1)" font-family='"Liberation Sans", sans-serif' font-size="10.62" text-anchor="end" fill="#1c1c1c" stroke="#1c1c1c" stroke-width="0.28">.8</text>
<line x1="1394.32" y1="54" x2="1397.5" y2="54" stroke="#5a5a5a" stroke-width="1"/>
<text transform="translate(1392.87,57.79) scale(0.73,1)" font-family='"Liberation Sans", sans-serif' font-size="10.62" text-anchor="end" fill="#1c1c1c" stroke="#1c1c1c" stroke-width="0.28">1</text>
<line x1="1402.5" y1="395.5" x2="1402.5" y2="399.55" stroke="#5a5a5a" stroke-width="1"/>
<text transform="translate(1402.5,411.79) scale(0.73,1)" font-family='"Liberation Sans", sans-serif' font-size="10.62" text-anchor="middle" fill="#1c1c1c" stroke="#1c1c1c" stroke-width="0.28">0</text>
<line x1="1527.05" y1="395.5" x2="1527.05" y2="399.55" stroke="#5a5a5a" stroke-width="1"/>
<text transform="translate(1527.05,411.79) scale(0.73,1)" font-family='"Liberation Sans", sans-serif' font-size="10.62" text-anchor="middle" fill="#1c1c1c" stroke="#1c1c1c" stroke-width="0.28">5</text>
<line x1="1651.6" y1="395.5" x2="1651.6" y2="399.55" stroke="#5a5a5a" stroke-width="1"/>
<text transform="translate(1651.6,411.79) scale(0.73,1)" font-family='"Liberation Sans", sans-serif' font-size="10.62" text-anchor="middle" fill="#1c1c1c" stroke="#1c1c1c" stroke-width="0.28">10</text>
<line x1="1776.15" y1="395.5" x2="1776.15" y2="399.55" stroke="#5a5a5a" stroke-width="1"/>
<text transform="translate(1776.15,411.79) scale(0.73,1)" font-family='"Liberation Sans", sans-serif' font-size="10.62" text-anchor="middle" fill="#1c1c1c" stroke="#1c1c1c" stroke-width="0.28">15</text>
<line x1="1900.7" y1="395.5" x2="1900.7" y2="399.55" stroke="#5a5a5a" stroke-width="1"/>
<text transform="translate(1900.7,411.79) scale(0.73,1)" font-family='"Liberation Sans", sans-serif' font-size="10.62" text-anchor="middle" fill="#1c1c1c" stroke="#1c1c1c" stroke-width="0.28">20</text>
<text transform="translate(1651.6,425.05) scale(0.74,1)" font-family='"Liberation Sans", sans-serif' font-size="10.42" text-anchor="middle" fill="#1c1c1c" stroke="#1c1c1c" stroke-width="0.28">rank</text>
<polyline points="1427.41,379.46 1452.32,368.74 1477.23,355.01 1502.14,335.25 1527.05,314.15 1551.96,293.05 1576.87,269.95 1601.78,247.17 1626.69,225.91 1651.6,202.97 1676.51,180.02 1701.42,157.08 1726.33,132.3 1751.24,109.53 1776.15,88.43 1801.06,72.35 1825.97,60.97 1850.88,53.6" fill="none" stroke="#2c8aff" stroke-width="2.22" stroke-dasharray="17.35 4.92" stroke-linejoin="round"/>
<polyline points="1427.41,337.93 1452.32,291.38 1477.23,252.53 1502.14,218.71 1527.05,188.9 1551.96,160.77 1576.87,135.99 1601.78,114.89 1626.69,98.81 1651.6,85.75 1676.51,76.04 1701.42,69.01 1726.33,63.65 1751.24,60.3 1776.15,57.28 1801.06,55.27 1825.97,54.27 1850.88,53.6" fill="none" stroke="#d41159" stroke-width="2.22" stroke-dasharray="17.35 4.92" stroke-linejoin="round"/>
<polyline points="1427.41,383.81 1452.32,375.77 1477.23,361.71 1502.14,342.28 1527.05,319.51 1551.96,289.37 1576.87,257.89 1601.78,227.75 1626.69,197.61 1651.6,168.81 1676.51,141.34 1701.42,116.56 1726.33,97.14 1751.24,81.4 1776.15,69.01 1801.06,60.97 1825.97,56.95 1850.88,53.6" fill="none" stroke="#30ca78" stroke-width="2.22" stroke-dasharray="17.35 4.92" stroke-linejoin="round"/>
<polyline points="1427.41,384.82 1452.32,377.78 1477.23,367.07 1502.14,349.32 1527.05,326.54 1551.96,301.76 1576.87,275.3 1601.78,245.33 1626.69,215.36 1651.6,186.56 1676.51,158.76 1701.42,132.3 1726.33,109.53 1751.24,90.1 1776.15,74.2 1801.06,63.65 1825.97,56.95 1850.88,53.6" fill="none" stroke="#f0d91c" stroke-width="2.22" stroke-dasharray="17.35 4.92" stroke-linejoin="round"/>
<polyline points="1427.41,378.45 1452.32,363.52 1477.23,342.28 1502.14,317.64 1527.05,286.02 1551.96,257.89 1576.87,227.75 1601.78,201.29 1626.69,176.51 1651.6,155.41 1676.51,132.3 1701.42,111.2 1726.33,93.79 1751.24,79.39 1776.15,69.68 1801.06,61.97 1825.97,56.95 1850.88,53.6" fill="none" stroke="#40129c" stroke-width="2.22" stroke-dasharray="17.35 4.92" stroke-linejoin="round"/>
<polyline points="1427.41,348.65 1452.32,307.12 1477.23,273.63 1502.14,245.33 1527.05,221.05 1551.96,197.61 1576.87,176.51 1601.78,157.08 1626.69,139.33 1651.6,121.25 1676.51,107.85 1701.42,94.46 1726.33,83.07 1751.24,72.35 1776.15,64.32 1801.06,59.29 1825.97,55.94 1850.88,53.6" fill="none" stroke="#fa4d14" stroke-width="2.22" stroke-dasharray="17.35 4.92" stroke-linejoin="round"/>
<polyline points="1427.41,373.23 1452.32,353 1477.23,324.87 1502.14,291.38 1527.05,257.89 1551.96,225.91 1576.87,197.61 1601.78,171.15 1626.69,148.38 1651.6,127.61 1676.51,109.53 1701.42,93.79 1726.33,79.39 1751.24,69.68 1776.15,62.64 1801.06,58.29 1825.97,55.27 1850.88,53.6" fill="none" stroke="#4dbbf7" stroke-width="2.22" stroke-dasharray="17.35 4.92" stroke-linejoin="round"/>
<polyline points="1427.41,382.14 1452.32,372.42 1477.23,358.36 1502.14,338.93 1527.05,315.83 1551.96,286.02 1576.87,255.88 1601.78,225.91 1626.69,195.93 1651.6,167.8 1676.51,141.34 1701.42,116.56 1726.33,97.14 1751.24,81.4 1776.15,69.01 1801.06,60.97 1825.97,56.95 1850.88,53.6" fill="none" stroke="#800012" stroke-width="2.22" stroke-dasharray="17.35 4.92" stroke-linejoin="round"/>
<polyline points="1427.41,387.16 1452.32,387.16 1477.23,387.16 1502.14,386.49 1527.05,384.82 1551.96,381.13 1576.87,375.77 1601.78,368.74 1626.69,356.35 1651.6,340.61 1676.51,321.19 1701.42,300.09 1726.33,271.79 1751.24,231.1 1776.15,190.57 1801.06,137.66 1825.97,81.4 1850.88,53.6" fill="none" stroke="#3dfdb0" stroke-width="2.22" stroke-dasharray="17.35 4.92" stroke-linejoin="round"/>
<polyline points="1427.41,335.25 1452.32,296.4 1477.23,262.91 1502.14,236.46 1527.05,210 1551.96,188.9 1576.87,169.48 1601.78,153.74 1626.69,139.33 1651.6,123.93 1676.51,112.21 1701.42,100.49 1726.33,88.43 1751.24,77.71 1776.15,69.01 1801.06,61.97 1825.97,56.95 1850.88,53.6" fill="none" stroke="#f09a12" stroke-width="2.22" stroke-dasharray="17.35 4.92" stroke-linejoin="round"/>
<polyline points="1427.41,358.36 1452.32,319.51 1477.23,280.66 1502.14,243.49 1527.05,210 1551.96,180.02 1576.87,153.74 1601.78,130.63 1626.69,112.88 1651.6,99.15 1676.51,85.75 1701.42,76.04 1726.33,69.68 1751.24,64.32 1776.15,60.3 1801.06,56.95 1825.97,54.94 1850.88,53.6" fill="none" stroke="#7373ff" stroke-width="2.22" stroke-dasharray="17.35 4.92" stroke-linejoin="round"/>
<polyline points="1427.41,365.39 1452.32,351.33 1477.23,335.25 1502.14,321.19 1527.05,308.79 1551.96,296.4 1576.87,282.34 1601.78,269.95 1626.69,255.88 1651.6,243.49 1676.51,231.1 1701.42,218.87 1726.33,204.64 1751.24,188.9 1776.15,172.99 1801.06,148.38 1825.97,118.24 1850.88,53.6" fill="none" stroke="#f5d3ab" stroke-width="2.22" stroke-dasharray="17.35 4.92" stroke-linejoin="round"/>
<polyline points="1427.41,329.89 1452.32,282.34 1477.23,247.17 1502.14,218.71 1527.05,192.25 1551.96,165.79 1576.87,146.37 1601.78,128.95 1626.69,112.88 1651.6,99.82 1676.51,87.42 1701.42,78.72 1726.33,71.68 1751.24,65.32 1776.15,60.97 1801.06,57.28 1825.97,54.94 1850.88,53.6" fill="none" stroke="#060a3c" stroke-width="2.22" stroke-dasharray="17.35 4.92" stroke-linejoin="round"/>
<polyline points="1427.41,353 1452.32,333.58 1477.23,315.83 1502.14,298.08 1527.05,280.66 1551.96,264.59 1576.87,248.85 1601.78,234.78 1626.69,218.71 1651.6,204.64 1676.51,192.25 1701.42,180.02 1726.33,164.12 1751.24,148.38 1776.15,130.63 1801.06,112.88 1825.97,91.78 1850.88,53.6" fill="none" stroke="#f07fa8" stroke-width="2.22" stroke-dasharray="17.35 4.92" stroke-linejoin="round"/>
<polyline points="1427.41,385.49 1452.32,382.14 1477.23,375.77 1502.14,368.74 1527.05,360.03 1551.96,349.32 1576.87,336.93 1601.78,322.86 1626.69,308.79 1651.6,289.37 1676.51,268.27 1701.42,250.52 1726.33,225.91 1751.24,201.29 1776.15,174.83 1801.06,141.34 1825.97,100.49 1850.88,53.6" fill="none" stroke="#0e5245" stroke-width="2.22" stroke-dasharray="17.35 4.92" stroke-linejoin="round"/>
<polyline points="1427.41,388.5 1452.32,388.5 1477.23,388.5 1502.14,388.5 1527.05,388.5 1551.96,388.5 1576.87,388.17 1601.78,387.5 1626.69,386.49 1651.6,382.81 1676.51,377.78 1701.42,368.74 1726.33,355.01 1751.24,335.25 1776.15,305.44 1801.06,252.36 1825.97,165.79 1850.88,53.6" fill="none" stroke="#2c8aff" stroke-width="2.22" stroke-dasharray="17.35 4.92" stroke-linejoin="round"/>
<polyline points="1427.41,387.83 1452.32,387.5 1477.23,387.5 1502.14,387.16 1527.05,385.49 1551.96,381.13 1576.87,372.42 1601.78,358.36 1626.69,333.58 1651.6,301.43 1676.51,268.27 1701.42,225.91 1726.33,180.02 1751.24,135.99 1776.15,93.79 1801.06,70.68 1825.97,58.29 1850.88,53.6" fill="none" stroke="#d41159" stroke-width="2.22" stroke-dasharray="17.35 4.92" stroke-linejoin="round"/>
<polyline points="1427.41,388.5 1452.32,388.5 1477.23,388.5 1502.14,388.17 1527.05,387.5 1551.96,386.49 1576.87,382.81 1601.78,375.77 1626.69,363.38 1651.6,342.28 1676.51,317.64 1701.42,282.34 1726.33,236.46 1751.24,185.22 1776.15,134.31 1801.06,93.79 1825.97,65.32 1850.88,53.6" fill="none" stroke="#30ca78" stroke-width="2.22" stroke-dasharray="17.35 4.92" stroke-linejoin="round"/>
<line x1="1581.1" y1="442.4" x2="1598.84" y2="442.4" stroke="#2c8aff" stroke-width="2.12"/>
<text transform="translate(1608.3,446.31) scale(0.725,1)" font-family='"Liberation Sans", sans-serif' font-size="10.7" text-anchor="start" fill="#1c1c1c" stroke="#1c1c1c" stroke-width="0.28">CRT</text>
<line x1="1659.2" y1="442.4" x2="1676.94" y2="442.4" stroke="#d41159" stroke-width="2.12"/>
<text transform="translate(1686.4,446.31) scale(0.725,1)" font-family='"Liberation Sans", sans-serif' font-size="10.7" text-anchor="start" fill="#1c1c1c" stroke="#1c1c1c" stroke-width="0.28">CNT</text>
<line x1="1581.1" y1="461.13" x2="1598.84" y2="461.13" stroke="#30ca78" stroke-width="2.12"/>
<text transform="translate(1608.3,465.04) scale(0.725,1)" font-family='"Liberation Sans", sans-serif' font-size="10.7" text-anchor="start" fill="#1c1c1c" stroke="#1c1c1c" stroke-width="0.28">CKT</text>
<line x1="1659.2" y1="461.13" x2="1676.94" y2="461.13" stroke="#f0d91c" stroke-width="2.12"/>
<text transform="translate(1686.4,465.04) scale(0.725,1)" font-family='"Liberation Sans", sans-serif' font-size="10.7" text-anchor="start" fill="#1c1c1c" stroke="#1c1c1c" stroke-width="0.28">BTT</text>
<line x1="1581.1" y1="479.86" x2="1598.84" y2="479.86" stroke="#40129c" stroke-width="2.12"/>
<text transform="translate(1608.3,483.77) scale(0.725,1)" font-family='"Liberation Sans", sans-serif' font-size="10.7" text-anchor="start" fill="#1c1c1c" stroke="#1c1c1c" stroke-width="0.28">GTT</text>
<line x1="1659.2" y1="479.86" x2="1676.94" y2="479.86" stroke="#fa4d14" stroke-width="2.12"/>
<text transform="translate(1686.4,483.77) scale(0.725,1)" font-family='"Liberation Sans", sans-serif' font-size="10.7" text-anchor="start" fill="#1c1c1c" stroke="#1c1c1c" stroke-width="0.28">MBET</text>
<line x1="1581.1" y1="498.59" x2="1598.84" y2="498.59" stroke="#4dbbf7" stroke-width="2.12"/>
<text transform="translate(1608.3,502.5) scale(0.725,1)" font-family='"Liberation Sans", sans-serif' font-size="10.7" text-anchor="start" fill="#1c1c1c" stroke="#1c1c1c" stroke-width="0.28">TCRT</text>
<line x1="1659.2" y1="498.59" x2="1676.94" y2="498.59" stroke="#800012" stroke-width="2.12"/>
<text transform="translate(1686.4,502.5) scale(0.725,1)" font-family='"Liberation Sans", sans-serif' font-size="10.7" text-anchor="start" fill="#1c1c1c" stroke="#1c1c1c" stroke-width="0.28">SSMT</text>
<line x1="1581.1" y1="517.32" x2="1598.84" y2="517.32" stroke="#3dfdb0" stroke-width="2.12"/>
<text transform="translate(1608.3,521.23) scale(0.725,1)" font-family='"Liberation Sans", sans-serif' font-size="10.7" text-anchor="start" fill="#1c1c1c" stroke="#1c1c1c" stroke-width="0.28">XRRT</text>
<line x1="1659.2" y1="517.32" x2="1676.94" y2="517.32" stroke="#f09a12" stroke-width="2.12"/>
<text transform="translate(1686.4,521.23) scale(0.725,1)" font-family='"Liberation Sans", sans-serif' font-size="10.7" text-anchor="start" fill="#1c1c1c" stroke="#1c1c1c" stroke-width="0.28">EART</text>
<line x1="1581.1" y1="536.05" x2="1598.84" y2="536.05" stroke="#7373ff" stroke-width="2.12"/>
<text transform="translate(1608.3,539.96) scale(0.725,1)" font-family='"Liberation Sans", sans-serif' font-size="10.7" text-anchor="start" fill="#1c1c1c" stroke="#1c1c1c" stroke-width="0.28">CMDT</text>
<line x1="1659.2" y1="536.05" x2="1676.94" y2="536.05" stroke="#f5d3ab" stroke-width="2.12"/>
<text transform="translate(1686.4,539.96) scale(0.725,1)" font-family='"Liberation Sans", sans-serif' font-size="10.7" text-anchor="start" fill="#1c1c1c" stroke="#1c1c1c" stroke-width="0.28">ULRT</text>
<line x1="1581.1" y1="554.78" x2="1598.84" y2="554.78" stroke="#060a3c" stroke-width="2.12"/>
<text transform="translate(1608.3,558.69) scale(0.725,1)" font-family='"Liberation Sans", sans-serif' font-size="10.7" text-anchor="start" fill="#1c1c1c" stroke="#1c1c1c" stroke-width="0.28">HRT</text>
<line x1="1659.2" y1="554.78" x2="1676.94" y2="554.78" stroke="#f07fa8" stroke-width="2.12"/>
<text transform="translate(1686.4,558.69) scale(0.725,1)" font-family='"Liberation Sans", sans-serif' font-size="10.7" text-anchor="start" fill="#1c1c1c" stroke="#1c1c1c" stroke-width="0.28">AOT</text>
<line x1="1581.1" y1="573.51" x2="1598.84" y2="573.51" stroke="#0e5245" stroke-width="2.12"/>
<text transform="translate(1608.3,577.42) scale(0.725,1)" font-family='"Liberation Sans", sans-serif' font-size="10.7" text-anchor="start" fill="#1c1c1c" stroke="#1c1c1c" stroke-width="0.28">RTRT</text>
<line x1="1659.2" y1="573.51" x2="1676.94" y2="573.51" stroke="#2c8aff" stroke-width="2.12"/>
<text transform="translate(1686.4,577.42) scale(0.725,1)" font-family='"Liberation Sans", sans-serif' font-size="10.7" text-anchor="start" fill="#1c1c1c" stroke="#1c1c1c" stroke-width="0.28">ARTT</text>
<line x1="1581.1" y1="592.24" x2="1598.84" y2="592.24" stroke="#d41159" stroke-width="2.12"/>
<text transform="translate(1608.3,596.15) scale(0.725,1)" font-family='"Liberation Sans", sans-serif' font-size="10.7" text-anchor="start" fill="#1c1c1c" stroke="#1c1c1c" stroke-width="0.28">HNIBST</text>
<line x1="1659.2" y1="592.24" x2="1676.94" y2="592.24" stroke="#30ca78" stroke-width="2.12"/>
<text transform="translate(1686.4,596.15) scale(0.725,1)" font-family='"Liberation Sans", sans-serif' font-size="10.7" text-anchor="start" fill="#1c1c1c" stroke="#1c1c1c" stroke-width="0.28">effect_t18</text>
<text transform="translate(1642.7,660.7) scale(0.65,1)" font-family='"Liberation Sans", sans-serif' font-size="29.3" text-anchor="middle" fill="#000" stroke="#000" stroke-width="0.28">C</text>
<text transform="translate(1374.5,241.5) rotate(-90)" font-family='"Liberation Serif", serif' font-weight="bold" font-size="24.7" text-anchor="middle" textLength="247.8" lengthAdjust="spacingAndGlyphs" fill="#000">Cumalative Probability</text>
</g>
<g id="chartD">
<line x1="129.1" y1="1050.8" x2="667.25" y2="1050.8" stroke="#f0f0f0" stroke-width="1" stroke-dasharray="9 4.5"/>
<line x1="129.1" y1="989.5" x2="667.25" y2="989.5" stroke="#f0f0f0" stroke-width="1" stroke-dasharray="9 4.5"/>
<line x1="129.1" y1="928.2" x2="667.25" y2="928.2" stroke="#f0f0f0" stroke-width="1" stroke-dasharray="9 4.5"/>
<line x1="129.1" y1="866.9" x2="667.25" y2="866.9" stroke="#f0f0f0" stroke-width="1" stroke-dasharray="9 4.5"/>
<line x1="129.1" y1="805.6" x2="667.25" y2="805.6" stroke="#f0f0f0" stroke-width="1" stroke-dasharray="9 4.5"/>
<line x1="129.1" y1="744.3" x2="667.25" y2="744.3" stroke="#f0f0f0" stroke-width="1" stroke-dasharray="9 4.5"/>
<line x1="133.9" y1="688.4" x2="133.9" y2="1056.9" stroke="#f0f0f0" stroke-width="1" stroke-dasharray="9 4.5"/>
<line x1="310.75" y1="688.4" x2="310.75" y2="1056.9" stroke="#f0f0f0" stroke-width="1" stroke-dasharray="9 4.5"/>
<line x1="487.6" y1="688.4" x2="487.6" y2="1056.9" stroke="#f0f0f0" stroke-width="1" stroke-dasharray="9 4.5"/>
<line x1="664.45" y1="688.4" x2="664.45" y2="1056.9" stroke="#f0f0f0" stroke-width="1" stroke-dasharray="9 4.5"/>
<path d="M129.1 688.4 V1056.9 H668.7" fill="none" stroke="#5a5a5a" stroke-width="1.4"/>
<line x1="126.05" y1="1050.8" x2="129.1" y2="1050.8" stroke="#5a5a5a" stroke-width="1"/>
<text transform="translate(124.67,1054.42) scale(0.73,1)" font-family='"Liberation Sans", sans-serif' font-size="10.17" text-anchor="end" fill="#1c1c1c" stroke="#1c1c1c" stroke-width="0.28">0</text>
<line x1="126.05" y1="989.5" x2="129.1" y2="989.5" stroke="#5a5a5a" stroke-width="1"/>
<text transform="translate(124.67,993.12) scale(0.73,1)" font-family='"Liberation Sans", sans-serif' font-size="10.17" text-anchor="end" fill="#1c1c1c" stroke="#1c1c1c" stroke-width="0.28">.2</text>
<line x1="126.05" y1="928.2" x2="129.1" y2="928.2" stroke="#5a5a5a" stroke-width="1"/>
<text transform="translate(124.67,931.82) scale(0.73,1)" font-family='"Liberation Sans", sans-serif' font-size="10.17" text-anchor="end" fill="#1c1c1c" stroke="#1c1c1c" stroke-width="0.28">.4</text>
<line x1="126.05" y1="866.9" x2="129.1" y2="866.9" stroke="#5a5a5a" stroke-width="1"/>
<text transform="translate(124.67,870.52) scale(0.73,1)" font-family='"Liberation Sans", sans-serif' font-size="10.17" text-anchor="end" fill="#1c1c1c" stroke="#1c1c1c" stroke-width="0.28">.6</text>
<line x1="126.05" y1="805.6" x2="129.1" y2="805.6" stroke="#5a5a5a" stroke-width="1"/>
<text transform="translate(124.67,809.22) scale(0.73,1)" font-family='"Liberation Sans", sans-serif' font-size="10.17" text-anchor="end" fill="#1c1c1c" stroke="#1c1c1c" stroke-width="0.28">.8</text>
<line x1="126.05" y1="744.3" x2="129.1" y2="744.3" stroke="#5a5a5a" stroke-width="1"/>
<text transform="translate(124.67,747.92) scale(0.73,1)" font-family='"Liberation Sans", sans-serif' font-size="10.17" text-anchor="end" fill="#1c1c1c" stroke="#1c1c1c" stroke-width="0.28">1</text>
<line x1="133.9" y1="1056.9" x2="133.9" y2="1060.78" stroke="#5a5a5a" stroke-width="1"/>
<text transform="translate(133.9,1072.35) scale(0.73,1)" font-family='"Liberation Sans", sans-serif' font-size="10.17" text-anchor="middle" fill="#1c1c1c" stroke="#1c1c1c" stroke-width="0.28">0</text>
<line x1="310.75" y1="1056.9" x2="310.75" y2="1060.78" stroke="#5a5a5a" stroke-width="1"/>
<text transform="translate(310.75,1072.35) scale(0.73,1)" font-family='"Liberation Sans", sans-serif' font-size="10.17" text-anchor="middle" fill="#1c1c1c" stroke="#1c1c1c" stroke-width="0.28">5</text>
<line x1="487.6" y1="1056.9" x2="487.6" y2="1060.78" stroke="#5a5a5a" stroke-width="1"/>
<text transform="translate(487.6,1072.35) scale(0.73,1)" font-family='"Liberation Sans", sans-serif' font-size="10.17" text-anchor="middle" fill="#1c1c1c" stroke="#1c1c1c" stroke-width="0.28">10</text>
<line x1="664.45" y1="1056.9" x2="664.45" y2="1060.78" stroke="#5a5a5a" stroke-width="1"/>
<text transform="translate(664.45,1072.35) scale(0.73,1)" font-family='"Liberation Sans", sans-serif' font-size="10.17" text-anchor="middle" fill="#1c1c1c" stroke="#1c1c1c" stroke-width="0.28">15</text>
<text transform="translate(399.17,1085.12) scale(0.74,1)" font-family='"Liberation Sans", sans-serif' font-size="9.98" text-anchor="middle" fill="#1c1c1c" stroke="#1c1c1c" stroke-width="0.28">rank</text>
<polyline points="169.27,1050.4 204.64,1050.4 240.01,1050.4 275.38,1050.09 310.75,1049.79 346.12,1049.48 381.49,1048.56 416.86,1047.95 452.23,1045.5 487.6,1041.67 522.97,1034.05 558.34,1021.62 593.71,994.98 629.08,937.72" fill="none" stroke="#2c8aff" stroke-width="2.12" stroke-dasharray="16.61 4.71" stroke-linejoin="round"/>
<polyline points="169.27,1050.4 204.64,1050.4 240.01,1050.4 275.38,1050.09 310.75,1049.18 346.12,1044.58 381.49,1033.1 416.86,1021.62 452.23,1000.67 487.6,960.68 522.97,903.42 558.34,834.84 593.71,771.88 629.08,735.63" fill="none" stroke="#d41159" stroke-width="2.12" stroke-dasharray="16.61 4.71" stroke-linejoin="round"/>
<polyline points="169.27,1050.4 204.64,1050.09 240.01,1049.18 275.38,1046.42 310.75,1033.1 346.12,1004.47 381.49,960.68 416.86,914.88 452.23,859.64 487.6,798.7 522.97,752.77 558.34,724.3 593.71,708.07 629.08,702.25" fill="none" stroke="#30ca78" stroke-width="2.12" stroke-dasharray="16.61 4.71" stroke-linejoin="round"/>
<polyline points="169.27,1050.4 204.64,1048.26 240.01,1041.67 275.38,1027.44 310.75,1002.63 346.12,973.85 381.49,937.72 416.86,901.59 452.23,870.97 487.6,838.63 522.97,806.21 558.34,777.58 593.71,749.1 629.08,723.38" fill="none" stroke="#f0d91c" stroke-width="2.12" stroke-dasharray="16.61 4.71" stroke-linejoin="round"/>
<polyline points="169.27,1050.4 204.64,1046.42 240.01,1029.27 275.38,1000.8 310.75,962.52 346.12,924.55 381.49,888.11 416.86,855.66 452.23,825.34 487.6,798.7 522.97,773.9 558.34,754.73 593.71,735.63 629.08,716.64" fill="none" stroke="#40129c" stroke-width="2.12" stroke-dasharray="16.61 4.71" stroke-linejoin="round"/>
<polyline points="169.27,1050.4 204.64,991.15 240.01,924.55 275.38,855.66 310.75,817.69 346.12,791.05 381.49,772.06 416.86,754.73 452.23,745.12 487.6,736.55 522.97,731.95 558.34,728.03 593.71,726.13 629.08,725.22" fill="none" stroke="#fa4d14" stroke-width="2.12" stroke-dasharray="16.61 4.71" stroke-linejoin="round"/>
<polyline points="169.27,1050.4 204.64,1042.75 240.01,1027.44 275.38,1006.31 310.75,983.53 346.12,960.68 381.49,937.72 416.86,914.88 452.23,892.09 487.6,870.97 522.97,848.31 558.34,825.34 593.71,796.68 629.08,758.59" fill="none" stroke="#4dbbf7" stroke-width="2.12" stroke-dasharray="16.61 4.71" stroke-linejoin="round"/>
<polyline points="169.27,1050.4 204.64,1049.79 240.01,1049.48 275.38,1046.42 310.75,1037.85 346.12,1025.48 381.49,1004.47 416.86,985.49 452.23,958.54 487.6,922.5 522.97,880.55 558.34,836.67 593.71,781.4 629.08,733.79" fill="none" stroke="#800012" stroke-width="2.12" stroke-dasharray="16.61 4.71" stroke-linejoin="round"/>
<polyline points="169.27,1050.4 204.64,1047.34 240.01,1036.93 275.38,1000.8 310.75,941.7 346.12,882.6 381.49,831.01 416.86,781.56 452.23,750.94 487.6,726.13 522.97,710.82 558.34,701.33 593.71,696.74 629.08,694.6" fill="none" stroke="#3dfdb0" stroke-width="2.12" stroke-dasharray="16.61 4.71" stroke-linejoin="round"/>
<polyline points="169.27,1050.4 204.64,1037.85 240.01,1015.92 275.38,985.49 310.75,956.83 346.12,930.06 381.49,907.25 416.86,886.28 452.23,863.4 487.6,842.49 522.97,821.45 558.34,800.54 593.71,771.88 629.08,747.26" fill="none" stroke="#f09a12" stroke-width="2.12" stroke-dasharray="16.61 4.71" stroke-linejoin="round"/>
<polyline points="169.27,749.1 204.64,745.12 240.01,744.2 275.38,744.2 310.75,744.2 346.12,744.2 381.49,744.2 416.86,744.2 452.23,744.2 487.6,744.2 522.97,744.2 558.34,744.2 593.71,744.2 629.08,744.2" fill="none" stroke="#7373ff" stroke-width="2.12" stroke-dasharray="16.61 4.71" stroke-linejoin="round"/>
<polyline points="169.27,1050.4 204.64,1049.18 240.01,1043.66 275.38,1031.11 310.75,1008.3 346.12,985.49 381.49,958.54 416.86,934.04 452.23,905.35 487.6,872.93 522.97,840.53 558.34,804.31 593.71,768.08 629.08,733.79" fill="none" stroke="#f5d3ab" stroke-width="2.12" stroke-dasharray="16.61 4.71" stroke-linejoin="round"/>
<polyline points="169.27,1050.4 204.64,1015.92 240.01,934.04 275.38,870.97 310.75,827.18 346.12,800.54 381.49,779.41 416.86,762.27 452.23,747.26 487.6,736.55 522.97,731.95 558.34,728.03 593.71,726.13 629.08,725.22" fill="none" stroke="#060a3c" stroke-width="2.12" stroke-dasharray="16.61 4.71" stroke-linejoin="round"/>
<polyline points="169.27,1050.4 204.64,863.31 240.01,794.72 275.38,764.41 310.75,752.77 346.12,748.18 381.49,745.73 416.86,744.2 452.23,743.28 487.6,742.67 522.97,742.67 558.34,742.67 593.71,742.67 629.08,742.67" fill="none" stroke="#f07fa8" stroke-width="2.12" stroke-dasharray="16.61 4.71" stroke-linejoin="round"/>
<line x1="340.4" y1="1101.9" x2="357.38" y2="1101.9" stroke="#2c8aff" stroke-width="2.03"/>
<text transform="translate(366.2,1105.64) scale(0.725,1)" font-family='"Liberation Sans", sans-serif' font-size="10.25" text-anchor="start" fill="#1c1c1c" stroke="#1c1c1c" stroke-width="0.28">CRT</text>
<line x1="409.4" y1="1101.9" x2="426.38" y2="1101.9" stroke="#d41159" stroke-width="2.03"/>
<text transform="translate(434.8,1105.64) scale(0.725,1)" font-family='"Liberation Sans", sans-serif' font-size="10.25" text-anchor="start" fill="#1c1c1c" stroke="#1c1c1c" stroke-width="0.28">CNT</text>
<line x1="340.4" y1="1119.83" x2="357.38" y2="1119.83" stroke="#30ca78" stroke-width="2.03"/>
<text transform="translate(366.2,1123.57) scale(0.725,1)" font-family='"Liberation Sans", sans-serif' font-size="10.25" text-anchor="start" fill="#1c1c1c" stroke="#1c1c1c" stroke-width="0.28">CKT</text>
<line x1="409.4" y1="1119.83" x2="426.38" y2="1119.83" stroke="#f0d91c" stroke-width="2.03"/>
<text transform="translate(434.8,1123.57) scale(0.725,1)" font-family='"Liberation Sans", sans-serif' font-size="10.25" text-anchor="start" fill="#1c1c1c" stroke="#1c1c1c" stroke-width="0.28">BTT</text>
<line x1="340.4" y1="1137.76" x2="357.38" y2="1137.76" stroke="#40129c" stroke-width="2.03"/>
<text transform="translate(366.2,1141.5) scale(0.725,1)" font-family='"Liberation Sans", sans-serif' font-size="10.25" text-anchor="start" fill="#1c1c1c" stroke="#1c1c1c" stroke-width="0.28">GTT</text>
<line x1="409.4" y1="1137.76" x2="426.38" y2="1137.76" stroke="#fa4d14" stroke-width="2.03"/>
<text transform="translate(434.8,1141.5) scale(0.725,1)" font-family='"Liberation Sans", sans-serif' font-size="10.25" text-anchor="start" fill="#1c1c1c" stroke="#1c1c1c" stroke-width="0.28">TCRT</text>
<line x1="340.4" y1="1155.69" x2="357.38" y2="1155.69" stroke="#4dbbf7" stroke-width="2.03"/>
<text transform="translate(366.2,1159.43) scale(0.725,1)" font-family='"Liberation Sans", sans-serif' font-size="10.25" text-anchor="start" fill="#1c1c1c" stroke="#1c1c1c" stroke-width="0.28">SSMT</text>
<line x1="409.4" y1="1155.69" x2="426.38" y2="1155.69" stroke="#800012" stroke-width="2.03"/>
<text transform="translate(434.8,1159.43) scale(0.725,1)" font-family='"Liberation Sans", sans-serif' font-size="10.25" text-anchor="start" fill="#1c1c1c" stroke="#1c1c1c" stroke-width="0.28">XRRT</text>
<line x1="340.4" y1="1173.62" x2="357.38" y2="1173.62" stroke="#3dfdb0" stroke-width="2.03"/>
<text transform="translate(366.2,1177.36) scale(0.725,1)" font-family='"Liberation Sans", sans-serif' font-size="10.25" text-anchor="start" fill="#1c1c1c" stroke="#1c1c1c" stroke-width="0.28">CMDT</text>
<line x1="409.4" y1="1173.62" x2="426.38" y2="1173.62" stroke="#f09a12" stroke-width="2.03"/>
<text transform="translate(434.8,1177.36) scale(0.725,1)" font-family='"Liberation Sans", sans-serif' font-size="10.25" text-anchor="start" fill="#1c1c1c" stroke="#1c1c1c" stroke-width="0.28">HRT</text>
<line x1="340.4" y1="1191.55" x2="357.38" y2="1191.55" stroke="#7373ff" stroke-width="2.03"/>
<text transform="translate(366.2,1195.29) scale(0.725,1)" font-family='"Liberation Sans", sans-serif' font-size="10.25" text-anchor="start" fill="#1c1c1c" stroke="#1c1c1c" stroke-width="0.28">RTRT</text>
<line x1="409.4" y1="1191.55" x2="426.38" y2="1191.55" stroke="#f5d3ab" stroke-width="2.03"/>
<text transform="translate(434.8,1195.29) scale(0.725,1)" font-family='"Liberation Sans", sans-serif' font-size="10.25" text-anchor="start" fill="#1c1c1c" stroke="#1c1c1c" stroke-width="0.28">CBRT</text>
<line x1="340.4" y1="1209.48" x2="357.38" y2="1209.48" stroke="#060a3c" stroke-width="2.03"/>
<text transform="translate(366.2,1213.22) scale(0.725,1)" font-family='"Liberation Sans", sans-serif' font-size="10.25" text-anchor="start" fill="#1c1c1c" stroke="#1c1c1c" stroke-width="0.28">ART</text>
<line x1="409.4" y1="1209.48" x2="426.38" y2="1209.48" stroke="#f07fa8" stroke-width="2.03"/>
<text transform="translate(434.8,1213.22) scale(0.725,1)" font-family='"Liberation Sans", sans-serif' font-size="10.25" text-anchor="start" fill="#1c1c1c" stroke="#1c1c1c" stroke-width="0.28">NIBST</text>
<text transform="translate(380.6,1267.1) scale(0.76,1)" font-family='"Liberation Sans", sans-serif' font-size="29.3" text-anchor="middle" fill="#000" stroke="#000" stroke-width="0.28">D</text>
<text transform="translate(105,879.5) rotate(-90)" font-family='"Liberation Serif", serif' font-weight="bold" font-size="24.7" text-anchor="middle" textLength="247.8" lengthAdjust="spacingAndGlyphs" fill="#000">Cumalative Probability</text>
</g>
<g id="chartE">
<line x1="775.1" y1="1028.4" x2="1241.2" y2="1028.4" stroke="#f0f0f0" stroke-width="1" stroke-dasharray="9 4.5"/>
<line x1="775.1" y1="966.79" x2="1241.2" y2="966.79" stroke="#f0f0f0" stroke-width="1" stroke-dasharray="9 4.5"/>
<line x1="775.1" y1="905.18" x2="1241.2" y2="905.18" stroke="#f0f0f0" stroke-width="1" stroke-dasharray="9 4.5"/>
<line x1="775.1" y1="843.57" x2="1241.2" y2="843.57" stroke="#f0f0f0" stroke-width="1" stroke-dasharray="9 4.5"/>
<line x1="775.1" y1="781.96" x2="1241.2" y2="781.96" stroke="#f0f0f0" stroke-width="1" stroke-dasharray="9 4.5"/>
<line x1="775.1" y1="720.35" x2="1241.2" y2="720.35" stroke="#f0f0f0" stroke-width="1" stroke-dasharray="9 4.5"/>
<line x1="779.2" y1="714.1" x2="779.2" y2="1034.4" stroke="#f0f0f0" stroke-width="1" stroke-dasharray="9 4.5"/>
<line x1="894" y1="714.1" x2="894" y2="1034.4" stroke="#f0f0f0" stroke-width="1" stroke-dasharray="9 4.5"/>
<line x1="1008.8" y1="714.1" x2="1008.8" y2="1034.4" stroke="#f0f0f0" stroke-width="1" stroke-dasharray="9 4.5"/>
<line x1="1123.6" y1="714.1" x2="1123.6" y2="1034.4" stroke="#f0f0f0" stroke-width="1" stroke-dasharray="9 4.5"/>
<line x1="1238.4" y1="714.1" x2="1238.4" y2="1034.4" stroke="#f0f0f0" stroke-width="1" stroke-dasharray="9 4.5"/>
<path d="M775.1 714.1 V1034.4 H1242.9" fill="none" stroke="#5a5a5a" stroke-width="1.4"/>
<line x1="772.17" y1="1028.4" x2="775.1" y2="1028.4" stroke="#5a5a5a" stroke-width="1"/>
<text transform="translate(770.83,1031.89) scale(0.73,1)" font-family='"Liberation Sans", sans-serif' font-size="9.79" text-anchor="end" fill="#1c1c1c" stroke="#1c1c1c" stroke-width="0.28">0</text>
<line x1="772.17" y1="966.79" x2="775.1" y2="966.79" stroke="#5a5a5a" stroke-width="1"/>
<text transform="translate(770.83,970.28) scale(0.73,1)" font-family='"Liberation Sans", sans-serif' font-size="9.79" text-anchor="end" fill="#1c1c1c" stroke="#1c1c1c" stroke-width="0.28">.2</text>
<line x1="772.17" y1="905.18" x2="775.1" y2="905.18" stroke="#5a5a5a" stroke-width="1"/>
<text transform="translate(770.83,908.67) scale(0.73,1)" font-family='"Liberation Sans", sans-serif' font-size="9.79" text-anchor="end" fill="#1c1c1c" stroke="#1c1c1c" stroke-width="0.28">.4</text>
<line x1="772.17" y1="843.57" x2="775.1" y2="843.57" stroke="#5a5a5a" stroke-width="1"/>
<text transform="translate(770.83,847.06) scale(0.73,1)" font-family='"Liberation Sans", sans-serif' font-size="9.79" text-anchor="end" fill="#1c1c1c" stroke="#1c1c1c" stroke-width="0.28">.6</text>
<line x1="772.17" y1="781.96" x2="775.1" y2="781.96" stroke="#5a5a5a" stroke-width="1"/>
<text transform="translate(770.83,785.45) scale(0.73,1)" font-family='"Liberation Sans", sans-serif' font-size="9.79" text-anchor="end" fill="#1c1c1c" stroke="#1c1c1c" stroke-width="0.28">.8</text>
<line x1="772.17" y1="720.35" x2="775.1" y2="720.35" stroke="#5a5a5a" stroke-width="1"/>
<text transform="translate(770.83,723.84) scale(0.73,1)" font-family='"Liberation Sans", sans-serif' font-size="9.79" text-anchor="end" fill="#1c1c1c" stroke="#1c1c1c" stroke-width="0.28">1</text>
<line x1="779.2" y1="1034.4" x2="779.2" y2="1038.13" stroke="#5a5a5a" stroke-width="1"/>
<text transform="translate(779.2,1049.14) scale(0.73,1)" font-family='"Liberation Sans", sans-serif' font-size="9.79" text-anchor="middle" fill="#1c1c1c" stroke="#1c1c1c" stroke-width="0.28">0</text>
<line x1="894" y1="1034.4" x2="894" y2="1038.13" stroke="#5a5a5a" stroke-width="1"/>
<text transform="translate(894,1049.14) scale(0.73,1)" font-family='"Liberation Sans", sans-serif' font-size="9.79" text-anchor="middle" fill="#1c1c1c" stroke="#1c1c1c" stroke-width="0.28">5</text>
<line x1="1008.8" y1="1034.4" x2="1008.8" y2="1038.13" stroke="#5a5a5a" stroke-width="1"/>
<text transform="translate(1008.8,1049.14) scale(0.73,1)" font-family='"Liberation Sans", sans-serif' font-size="9.79" text-anchor="middle" fill="#1c1c1c" stroke="#1c1c1c" stroke-width="0.28">10</text>
<line x1="1123.6" y1="1034.4" x2="1123.6" y2="1038.13" stroke="#5a5a5a" stroke-width="1"/>
<text transform="translate(1123.6,1049.14) scale(0.73,1)" font-family='"Liberation Sans", sans-serif' font-size="9.79" text-anchor="middle" fill="#1c1c1c" stroke="#1c1c1c" stroke-width="0.28">15</text>
<line x1="1238.4" y1="1034.4" x2="1238.4" y2="1038.13" stroke="#5a5a5a" stroke-width="1"/>
<text transform="translate(1238.4,1049.14) scale(0.73,1)" font-family='"Liberation Sans", sans-serif' font-size="9.79" text-anchor="middle" fill="#1c1c1c" stroke="#1c1c1c" stroke-width="0.28">20</text>
<text transform="translate(1008.8,1061.21) scale(0.74,1)" font-family='"Liberation Sans", sans-serif' font-size="9.61" text-anchor="middle" fill="#1c1c1c" stroke="#1c1c1c" stroke-width="0.28">rank</text>
<polyline points="802.16,1022.04 825.12,955.24 848.08,896.9 871.04,849.95 894,812.71 916.96,785 939.92,763.76 962.88,749.29 985.84,739.44 1008.8,733.9 1031.76,728.97 1054.72,725.58 1077.68,723.43 1100.64,721.89 1123.6,721.27 1146.56,720.66 1169.52,720.35" fill="none" stroke="#2c8aff" stroke-width="2.04" stroke-dasharray="16 4.53" stroke-linejoin="round"/>
<polyline points="802.16,1018.66 825.12,968.32 848.08,919.62 871.04,882.28 894,851.49 916.96,827.17 939.92,807.63 962.88,789.77 985.84,775.15 1008.8,762.53 1031.76,752.37 1054.72,742.82 1077.68,734.51 1100.64,728.05 1123.6,724.04 1146.56,721.89 1169.52,720.35" fill="none" stroke="#d41159" stroke-width="2.04" stroke-dasharray="16 4.53" stroke-linejoin="round"/>
<polyline points="802.16,1027.89 825.12,1026.66 848.08,1023.58 871.04,1013.73 894,995.88 916.96,973.19 939.92,940.77 962.88,896.9 985.84,853.03 1008.8,816.4 1031.76,786.54 1054.72,760.68 1077.68,742.82 1100.64,731.43 1123.6,724.97 1146.56,721.89 1169.52,720.35" fill="none" stroke="#30ca78" stroke-width="2.04" stroke-dasharray="16 4.53" stroke-linejoin="round"/>
<polyline points="802.16,1026.66 825.12,1016.19 848.08,1004 871.04,987.87 894,970.02 916.96,950.47 939.92,929.38 962.88,905.06 985.84,883.91 1008.8,862.88 1031.76,843.49 1054.72,822.25 1077.68,796.39 1100.64,767.14 1123.6,741.1 1146.56,726.51 1169.52,720.35" fill="none" stroke="#f0d91c" stroke-width="2.04" stroke-dasharray="16 4.53" stroke-linejoin="round"/>
<polyline points="802.16,1026.05 825.12,1010.5 848.08,989.41 871.04,976.48 894,965.09 916.96,953.7 939.92,943.97 962.88,929.38 985.84,917.99 1008.8,905.06 1031.76,890.41 1054.72,874.28 1077.68,853.03 1100.64,827.17 1123.6,785 1146.56,747.56 1169.52,720.35" fill="none" stroke="#40129c" stroke-width="2.04" stroke-dasharray="16 4.53" stroke-linejoin="round"/>
<polyline points="802.16,762.22 825.12,732.17 848.08,724.04 871.04,721.58 894,720.97 916.96,720.66 939.92,720.35 962.88,720.35 985.84,720.35 1008.8,720.35 1031.76,720.35 1054.72,720.35 1077.68,720.35 1100.64,720.35 1123.6,720.35 1146.56,720.35 1169.52,720.35" fill="none" stroke="#fa4d14" stroke-width="2.04" stroke-dasharray="16 4.53" stroke-linejoin="round"/>
<polyline points="802.16,1027.58 825.12,1018.66 848.08,1005.73 871.04,989.41 894,966.63 916.96,942.31 939.92,914.76 962.88,882.28 985.84,848.2 1008.8,819.79 1031.76,796.39 1054.72,773.61 1077.68,754.21 1100.64,737.9 1123.6,727.43 1146.56,722.81 1169.52,720.35" fill="none" stroke="#4dbbf7" stroke-width="2.04" stroke-dasharray="16 4.53" stroke-linejoin="round"/>
<polyline points="802.16,1025.12 825.12,995.88 848.08,953.7 871.04,916.45 894,882.28 916.96,851.49 939.92,825.48 962.88,804.39 985.84,785 1008.8,765.6 1031.76,754.21 1054.72,743.75 1077.68,735.74 1100.64,728.97 1123.6,724.35 1146.56,721.89 1169.52,720.35" fill="none" stroke="#800012" stroke-width="2.04" stroke-dasharray="16 4.53" stroke-linejoin="round"/>
<polyline points="802.16,1026.66 825.12,1011.27 848.08,989.41 871.04,968.32 894,943.97 916.96,914.76 939.92,885.67 962.88,859.5 985.84,836.84 1008.8,815.17 1031.76,794.66 1054.72,773.61 1077.68,754.21 1100.64,737.9 1123.6,727.43 1146.56,722.81 1169.52,720.35" fill="none" stroke="#3dfdb0" stroke-width="2.04" stroke-dasharray="16 4.53" stroke-linejoin="round"/>
<polyline points="802.16,1026.66 825.12,1019.43 848.08,1010.5 871.04,999.26 894,987.87 916.96,973.19 939.92,956.96 962.88,940.77 985.84,924.45 1008.8,907.83 1031.76,890.41 1054.72,864.42 1077.68,831.98 1100.64,794.66 1123.6,758.95 1146.56,732.97 1169.52,720.35" fill="none" stroke="#f09a12" stroke-width="2.04" stroke-dasharray="16 4.53" stroke-linejoin="round"/>
<polyline points="802.16,1026.66 825.12,1021.12 848.08,1015.39 871.04,1008.81 894,1002.34 916.96,995.88 939.92,987.87 962.88,979.68 985.84,973.19 1008.8,965.71 1031.76,958.63 1054.72,947.24 1077.68,934.31 1100.64,917.99 1123.6,888.74 1146.56,817.32 1169.52,720.35" fill="none" stroke="#7373ff" stroke-width="2.04" stroke-dasharray="16 4.53" stroke-linejoin="round"/>
<polyline points="802.16,1023.58 825.12,982.95 848.08,960.17 871.04,942.31 894,926.12 916.96,913.06 939.92,898.6 962.88,885.67 985.84,870.89 1008.8,856.73 1031.76,843.49 1054.72,830.34 1077.68,814.24 1100.64,793 1123.6,762.22 1146.56,737.9 1169.52,720.35" fill="none" stroke="#f5d3ab" stroke-width="2.04" stroke-dasharray="16 4.53" stroke-linejoin="round"/>
<polyline points="802.16,1028.2 825.12,1028.2 848.08,1027.89 871.04,1027.58 894,1026.66 916.96,1025.12 939.92,1023.58 962.88,1022.04 985.84,1019.43 1008.8,1016.19 1031.76,1012.19 1054.72,1005.73 1077.68,995.88 1100.64,979.68 1123.6,945.7 1146.56,849.95 1169.52,720.35" fill="none" stroke="#060a3c" stroke-width="2.04" stroke-dasharray="16 4.53" stroke-linejoin="round"/>
<polyline points="802.16,1026.05 825.12,1010.5 848.08,982.95 871.04,950.47 894,913.06 916.96,874.28 939.92,838.56 962.88,812.71 985.84,788.08 1008.8,764.99 1031.76,751.13 1054.72,740.36 1077.68,732.66 1100.64,726.81 1123.6,723.43 1146.56,721.58 1169.52,720.35" fill="none" stroke="#f07fa8" stroke-width="2.04" stroke-dasharray="16 4.53" stroke-linejoin="round"/>
<polyline points="802.16,1026.05 825.12,1008.81 848.08,986.18 871.04,963.55 894,939.23 916.96,911.52 939.92,883.91 962.88,859.5 985.84,836.84 1008.8,816.09 1031.76,797.93 1054.72,780.07 1077.68,762.22 1100.64,744.36 1123.6,729.74 1146.56,723.43 1169.52,720.35" fill="none" stroke="#0e5245" stroke-width="2.04" stroke-dasharray="16 4.53" stroke-linejoin="round"/>
<polyline points="802.16,1028.2 825.12,1026.66 848.08,1024.29 871.04,1019.43 894,1012.19 916.96,1002.34 939.92,989.41 962.88,968.32 985.84,945.7 1008.8,921.99 1031.76,892.13 1054.72,857.96 1077.68,817.32 1100.64,775.15 1123.6,742.82 1146.56,725.58 1169.52,720.35" fill="none" stroke="#2c8aff" stroke-width="2.04" stroke-dasharray="16 4.53" stroke-linejoin="round"/>
<polyline points="802.16,1028.2 825.12,1028.2 848.08,1028.2 871.04,1027.89 894,1027.28 916.96,1023.58 939.92,1015.39 962.88,1002.34 985.84,976.48 1008.8,941.69 1031.76,890.41 1054.72,833.64 1077.68,785 1100.64,747.56 1123.6,728.05 1146.56,722.2 1169.52,720.35" fill="none" stroke="#d41159" stroke-width="2.04" stroke-dasharray="16 4.53" stroke-linejoin="round"/>
<line x1="949.6" y1="1077.5" x2="965.96" y2="1077.5" stroke="#2c8aff" stroke-width="1.96"/>
<text transform="translate(974.2,1081.1) scale(0.725,1)" font-family='"Liberation Sans", sans-serif' font-size="9.87" text-anchor="start" fill="#1c1c1c" stroke="#1c1c1c" stroke-width="0.28">CRT</text>
<line x1="1021.6" y1="1077.5" x2="1037.96" y2="1077.5" stroke="#d41159" stroke-width="1.96"/>
<text transform="translate(1046.3,1081.1) scale(0.725,1)" font-family='"Liberation Sans", sans-serif' font-size="9.87" text-anchor="start" fill="#1c1c1c" stroke="#1c1c1c" stroke-width="0.28">CNT</text>
<line x1="949.6" y1="1094.78" x2="965.96" y2="1094.78" stroke="#30ca78" stroke-width="1.96"/>
<text transform="translate(974.2,1098.38) scale(0.725,1)" font-family='"Liberation Sans", sans-serif' font-size="9.87" text-anchor="start" fill="#1c1c1c" stroke="#1c1c1c" stroke-width="0.28">CKT</text>
<line x1="1021.6" y1="1094.78" x2="1037.96" y2="1094.78" stroke="#f0d91c" stroke-width="1.96"/>
<text transform="translate(1046.3,1098.38) scale(0.725,1)" font-family='"Liberation Sans", sans-serif' font-size="9.87" text-anchor="start" fill="#1c1c1c" stroke="#1c1c1c" stroke-width="0.28">BTT</text>
<line x1="949.6" y1="1112.06" x2="965.96" y2="1112.06" stroke="#40129c" stroke-width="1.96"/>
<text transform="translate(974.2,1115.66) scale(0.725,1)" font-family='"Liberation Sans", sans-serif' font-size="9.87" text-anchor="start" fill="#1c1c1c" stroke="#1c1c1c" stroke-width="0.28">GTT</text>
<line x1="1021.6" y1="1112.06" x2="1037.96" y2="1112.06" stroke="#fa4d14" stroke-width="1.96"/>
<text transform="translate(1046.3,1115.66) scale(0.725,1)" font-family='"Liberation Sans", sans-serif' font-size="9.87" text-anchor="start" fill="#1c1c1c" stroke="#1c1c1c" stroke-width="0.28">MBET</text>
<line x1="949.6" y1="1129.34" x2="965.96" y2="1129.34" stroke="#4dbbf7" stroke-width="1.96"/>
<text transform="translate(974.2,1132.94) scale(0.725,1)" font-family='"Liberation Sans", sans-serif' font-size="9.87" text-anchor="start" fill="#1c1c1c" stroke="#1c1c1c" stroke-width="0.28">TCRT</text>
<line x1="1021.6" y1="1129.34" x2="1037.96" y2="1129.34" stroke="#800012" stroke-width="1.96"/>
<text transform="translate(1046.3,1132.94) scale(0.725,1)" font-family='"Liberation Sans", sans-serif' font-size="9.87" text-anchor="start" fill="#1c1c1c" stroke="#1c1c1c" stroke-width="0.28">SSMT</text>
<line x1="949.6" y1="1146.62" x2="965.96" y2="1146.62" stroke="#3dfdb0" stroke-width="1.96"/>
<text transform="translate(974.2,1150.22) scale(0.725,1)" font-family='"Liberation Sans", sans-serif' font-size="9.87" text-anchor="start" fill="#1c1c1c" stroke="#1c1c1c" stroke-width="0.28">XRRT</text>
<line x1="1021.6" y1="1146.62" x2="1037.96" y2="1146.62" stroke="#f09a12" stroke-width="1.96"/>
<text transform="translate(1046.3,1150.22) scale(0.725,1)" font-family='"Liberation Sans", sans-serif' font-size="9.87" text-anchor="start" fill="#1c1c1c" stroke="#1c1c1c" stroke-width="0.28">EART</text>
<line x1="949.6" y1="1163.9" x2="965.96" y2="1163.9" stroke="#7373ff" stroke-width="1.96"/>
<text transform="translate(974.2,1167.5) scale(0.725,1)" font-family='"Liberation Sans", sans-serif' font-size="9.87" text-anchor="start" fill="#1c1c1c" stroke="#1c1c1c" stroke-width="0.28">CMDT</text>
<line x1="1021.6" y1="1163.9" x2="1037.96" y2="1163.9" stroke="#f5d3ab" stroke-width="1.96"/>
<text transform="translate(1046.3,1167.5) scale(0.725,1)" font-family='"Liberation Sans", sans-serif' font-size="9.87" text-anchor="start" fill="#1c1c1c" stroke="#1c1c1c" stroke-width="0.28">HRT</text>
<line x1="949.6" y1="1181.18" x2="965.96" y2="1181.18" stroke="#060a3c" stroke-width="1.96"/>
<text transform="translate(974.2,1184.78) scale(0.725,1)" font-family='"Liberation Sans", sans-serif' font-size="9.87" text-anchor="start" fill="#1c1c1c" stroke="#1c1c1c" stroke-width="0.28">RTRT</text>
<line x1="1021.6" y1="1181.18" x2="1037.96" y2="1181.18" stroke="#f07fa8" stroke-width="1.96"/>
<text transform="translate(1046.3,1184.78) scale(0.725,1)" font-family='"Liberation Sans", sans-serif' font-size="9.87" text-anchor="start" fill="#1c1c1c" stroke="#1c1c1c" stroke-width="0.28">CBRT</text>
<line x1="949.6" y1="1198.46" x2="965.96" y2="1198.46" stroke="#0e5245" stroke-width="1.96"/>
<text transform="translate(974.2,1202.06) scale(0.725,1)" font-family='"Liberation Sans", sans-serif' font-size="9.87" text-anchor="start" fill="#1c1c1c" stroke="#1c1c1c" stroke-width="0.28">ART</text>
<line x1="1021.6" y1="1198.46" x2="1037.96" y2="1198.46" stroke="#2c8aff" stroke-width="1.96"/>
<text transform="translate(1046.3,1202.06) scale(0.725,1)" font-family='"Liberation Sans", sans-serif' font-size="9.87" text-anchor="start" fill="#1c1c1c" stroke="#1c1c1c" stroke-width="0.28">NIBST</text>
<line x1="949.6" y1="1215.74" x2="965.96" y2="1215.74" stroke="#d41159" stroke-width="1.96"/>
<text transform="translate(974.2,1219.34) scale(0.725,1)" font-family='"Liberation Sans", sans-serif' font-size="9.87" text-anchor="start" fill="#1c1c1c" stroke="#1c1c1c" stroke-width="0.28">HNIBST</text>
<text transform="translate(1010.4,1267.6) scale(0.61,1)" font-family='"Liberation Sans", sans-serif' font-size="29.3" text-anchor="middle" fill="#000" stroke="#000" stroke-width="0.28">E</text>
<text transform="translate(750.4,889.5) rotate(-90)" font-family='"Liberation Serif", serif' font-weight="bold" font-size="24.7" text-anchor="middle" textLength="247.8" lengthAdjust="spacingAndGlyphs" fill="#000">Cumalative Probability</text>
</g>
<g id="chartF">
<line x1="130.2" y1="1650.5" x2="668.5" y2="1650.5" stroke="#edf0f3" stroke-width="1.1"/>
<line x1="130.2" y1="1583.1" x2="668.5" y2="1583.1" stroke="#edf0f3" stroke-width="1.1"/>
<line x1="130.2" y1="1515.7" x2="668.5" y2="1515.7" stroke="#edf0f3" stroke-width="1.1"/>
<line x1="130.2" y1="1448.3" x2="668.5" y2="1448.3" stroke="#edf0f3" stroke-width="1.1"/>
<line x1="130.2" y1="1380.9" x2="668.5" y2="1380.9" stroke="#edf0f3" stroke-width="1.1"/>
<line x1="130.2" y1="1313.5" x2="668.5" y2="1313.5" stroke="#edf0f3" stroke-width="1.1"/>
<path d="M130.2 1306.7 H668.5 V1659" fill="none" stroke="#f0f2f4" stroke-width="1"/>
<path d="M130.2 1307 V1659.6 H664.2" fill="none" stroke="#5a5a5a" stroke-width="1.4"/>
<line x1="126.92" y1="1652.9" x2="130.2" y2="1652.9" stroke="#5a5a5a" stroke-width="1"/>
<text transform="translate(125.43,1656.8) scale(0.73,1)" font-family='"Liberation Sans", sans-serif' font-size="10.95" text-anchor="end" fill="#1c1c1c" stroke="#1c1c1c" stroke-width="0.28">0</text>
<line x1="126.92" y1="1585.02" x2="130.2" y2="1585.02" stroke="#5a5a5a" stroke-width="1"/>
<text transform="translate(125.43,1588.92) scale(0.73,1)" font-family='"Liberation Sans", sans-serif' font-size="10.95" text-anchor="end" fill="#1c1c1c" stroke="#1c1c1c" stroke-width="0.28">.2</text>
<line x1="126.92" y1="1517.14" x2="130.2" y2="1517.14" stroke="#5a5a5a" stroke-width="1"/>
<text transform="translate(125.43,1521.04) scale(0.73,1)" font-family='"Liberation Sans", sans-serif' font-size="10.95" text-anchor="end" fill="#1c1c1c" stroke="#1c1c1c" stroke-width="0.28">.4</text>
<line x1="126.92" y1="1449.26" x2="130.2" y2="1449.26" stroke="#5a5a5a" stroke-width="1"/>
<text transform="translate(125.43,1453.16) scale(0.73,1)" font-family='"Liberation Sans", sans-serif' font-size="10.95" text-anchor="end" fill="#1c1c1c" stroke="#1c1c1c" stroke-width="0.28">.6</text>
<line x1="126.92" y1="1381.38" x2="130.2" y2="1381.38" stroke="#5a5a5a" stroke-width="1"/>
<text transform="translate(125.43,1385.28) scale(0.73,1)" font-family='"Liberation Sans", sans-serif' font-size="10.95" text-anchor="end" fill="#1c1c1c" stroke="#1c1c1c" stroke-width="0.28">.8</text>
<line x1="126.92" y1="1313.5" x2="130.2" y2="1313.5" stroke="#5a5a5a" stroke-width="1"/>
<text transform="translate(125.43,1317.4) scale(0.73,1)" font-family='"Liberation Sans", sans-serif' font-size="10.95" text-anchor="end" fill="#1c1c1c" stroke="#1c1c1c" stroke-width="0.28">1</text>
<line x1="135.2" y1="1659.6" x2="135.2" y2="1663.77" stroke="#5a5a5a" stroke-width="1"/>
<text transform="translate(135.2,1675.6) scale(0.73,1)" font-family='"Liberation Sans", sans-serif' font-size="10.95" text-anchor="middle" fill="#1c1c1c" stroke="#1c1c1c" stroke-width="0.28">0</text>
<line x1="266.2" y1="1659.6" x2="266.2" y2="1663.77" stroke="#5a5a5a" stroke-width="1"/>
<text transform="translate(266.2,1675.6) scale(0.73,1)" font-family='"Liberation Sans", sans-serif' font-size="10.95" text-anchor="middle" fill="#1c1c1c" stroke="#1c1c1c" stroke-width="0.28">5</text>
<line x1="397.2" y1="1659.6" x2="397.2" y2="1663.77" stroke="#5a5a5a" stroke-width="1"/>
<text transform="translate(397.2,1675.6) scale(0.73,1)" font-family='"Liberation Sans", sans-serif' font-size="10.95" text-anchor="middle" fill="#1c1c1c" stroke="#1c1c1c" stroke-width="0.28">10</text>
<line x1="528.2" y1="1659.6" x2="528.2" y2="1663.77" stroke="#5a5a5a" stroke-width="1"/>
<text transform="translate(528.2,1675.6) scale(0.73,1)" font-family='"Liberation Sans", sans-serif' font-size="10.95" text-anchor="middle" fill="#1c1c1c" stroke="#1c1c1c" stroke-width="0.28">15</text>
<line x1="659.2" y1="1659.6" x2="659.2" y2="1663.77" stroke="#5a5a5a" stroke-width="1"/>
<text transform="translate(659.2,1675.6) scale(0.73,1)" font-family='"Liberation Sans", sans-serif' font-size="10.95" text-anchor="middle" fill="#1c1c1c" stroke="#1c1c1c" stroke-width="0.28">20</text>
<text transform="translate(397.2,1688.44) scale(0.74,1)" font-family='"Liberation Sans", sans-serif' font-size="10.75" text-anchor="middle" fill="#1c1c1c" stroke="#1c1c1c" stroke-width="0.28">rank</text>
<polyline points="163.9,1648.77 190.1,1643.54 216.3,1543.48 242.5,1452.57 268.7,1402.37 294.9,1375.57 321.1,1358.61 347.3,1346.06 373.5,1337.24 399.7,1330.8 425.9,1325.37 452.1,1321.64 478.3,1318.93 504.5,1316.89 530.7,1315.54 556.9,1314.86 583.1,1314.18 609.3,1313.5" fill="none" stroke="#1a476f" stroke-width="2.29" stroke-dasharray="17.89 5.07" stroke-linejoin="round"/>
<polyline points="163.9,1650.6 190.1,1650.6 216.3,1645.24 242.5,1632.69 268.7,1611.32 294.9,1582.82 321.1,1554.33 347.3,1522.11 373.5,1493.28 399.7,1467.5 425.9,1443.41 452.1,1418.31 478.3,1393.38 504.5,1371.84 530.7,1352.3 556.9,1336.23 583.1,1323.68 609.3,1313.5" fill="none" stroke="#90353b" stroke-width="2.29" stroke-dasharray="17.89 5.07" stroke-linejoin="round"/>
<polyline points="163.9,1650.6 190.1,1650.6 216.3,1648.77 242.5,1641.51 268.7,1627.26 294.9,1605.89 321.1,1577.4 347.3,1546.87 373.5,1514.82 399.7,1485.47 425.9,1454.1 452.1,1422.04 478.3,1391.52 504.5,1364.72 530.7,1339.79 556.9,1323.68 583.1,1316.89 609.3,1313.5" fill="none" stroke="#55752f" stroke-width="2.29" stroke-dasharray="17.89 5.07" stroke-linejoin="round"/>
<polyline points="163.9,1650.6 190.1,1648.77 216.3,1627.26 242.5,1602.33 268.7,1568.41 294.9,1527.2 321.1,1493.28 347.3,1468.51 373.5,1445.11 399.7,1422.04 425.9,1404.07 452.1,1384.39 478.3,1368.45 504.5,1354.2 530.7,1341.65 556.9,1330.8 583.1,1321.98 609.3,1313.5" fill="none" stroke="#e37e00" stroke-width="2.29" stroke-dasharray="17.89 5.07" stroke-linejoin="round"/>
<polyline points="163.9,1650.6 190.1,1646.93 216.3,1622.17 242.5,1597.07 268.7,1568.41 294.9,1539.75 321.1,1518.38 347.3,1498.7 373.5,1479.03 399.7,1462.75 425.9,1448.84 452.1,1430.86 478.3,1414.92 504.5,1396.94 530.7,1378.97 556.9,1359.43 583.1,1337.92 609.3,1313.5" fill="none" stroke="#6e8e84" stroke-width="2.29" stroke-dasharray="17.89 5.07" stroke-linejoin="round"/>
<polyline points="163.9,1650.6 190.1,1650.6 216.3,1649.65 242.5,1645.24 268.7,1638.11 294.9,1627.26 321.1,1614.85 347.3,1600.46 373.5,1580.89 399.7,1559.42 425.9,1539.75 452.1,1514.82 478.3,1488.02 504.5,1459.36 530.7,1427.3 556.9,1393.38 583.1,1352.3 609.3,1313.5" fill="none" stroke="#c10534" stroke-width="2.29" stroke-dasharray="17.89 5.07" stroke-linejoin="round"/>
<polyline points="163.9,1650.6 190.1,1650.6 216.3,1645.92 242.5,1634.38 268.7,1616.74 294.9,1593.34 321.1,1566.54 347.3,1539.75 373.5,1512.95 399.7,1490.56 425.9,1466.58 452.1,1441.72 478.3,1414.92 504.5,1389.82 530.7,1366.58 556.9,1345.05 583.1,1327.41 609.3,1313.5" fill="none" stroke="#938dd2" stroke-width="2.29" stroke-dasharray="17.89 5.07" stroke-linejoin="round"/>
<polyline points="163.9,1650.6 190.1,1650.6 216.3,1639.81 242.5,1620.14 268.7,1584.86 294.9,1543.48 321.1,1511.25 347.3,1484.46 373.5,1461.39 399.7,1437.99 425.9,1416.62 452.1,1396.94 478.3,1378.97 504.5,1361.33 530.7,1345.05 556.9,1332.63 583.1,1321.98 609.3,1313.5" fill="none" stroke="#cac27e" stroke-width="2.29" stroke-dasharray="17.89 5.07" stroke-linejoin="round"/>
<polyline points="163.9,1650.6 190.1,1650.6 216.3,1645.92 242.5,1634.38 268.7,1614.85 294.9,1588.25 321.1,1557.72 347.3,1525.5 373.5,1495.31 399.7,1467.5 425.9,1437.99 452.1,1411.19 478.3,1386.22 504.5,1364.72 530.7,1345.05 556.9,1330.8 583.1,1320.96 609.3,1313.5" fill="none" stroke="#a0522d" stroke-width="2.29" stroke-dasharray="17.89 5.07" stroke-linejoin="round"/>
<polyline points="163.9,1650.6 190.1,1650.6 216.3,1645.24 242.5,1632.69 268.7,1613.01 294.9,1584.86 321.1,1557.72 347.3,1527.2 373.5,1498.7 399.7,1472.92 425.9,1450.54 452.1,1427.3 478.3,1404.07 504.5,1382.7 530.7,1361.33 556.9,1343.35 583.1,1327.41 609.3,1313.5" fill="none" stroke="#7b92a8" stroke-width="2.29" stroke-dasharray="17.89 5.07" stroke-linejoin="round"/>
<polyline points="163.9,1650.6 190.1,1650.6 216.3,1650.6 242.5,1649.65 268.7,1645.24 294.9,1638.11 321.1,1627.26 347.3,1613.01 373.5,1595.04 399.7,1577.4 425.9,1557.72 452.1,1536.35 478.3,1512.95 504.5,1486.49 530.7,1452.23 556.9,1405.86 583.1,1354.2 609.3,1313.5" fill="none" stroke="#2d6d66" stroke-width="2.29" stroke-dasharray="17.89 5.07" stroke-linejoin="round"/>
<polyline points="163.9,1460.37 190.1,1341.65 216.3,1328.09 242.5,1322.83 268.7,1319.27 294.9,1317.57 321.1,1316.21 347.3,1315.54 373.5,1314.86 399.7,1314.52 425.9,1314.18 452.1,1313.84 478.3,1313.5 504.5,1313.5 530.7,1313.5 556.9,1313.5 583.1,1313.5 609.3,1313.5" fill="none" stroke="#9c8847" stroke-width="2.29" stroke-dasharray="17.89 5.07" stroke-linejoin="round"/>
<polyline points="163.9,1650.6 190.1,1650.6 216.3,1648.77 242.5,1643.54 268.7,1636.42 294.9,1627.26 321.1,1616.74 347.3,1607.69 373.5,1597.07 399.7,1585.88 425.9,1571.97 452.1,1559.42 478.3,1545.17 504.5,1525.5 530.7,1502.43 556.9,1471.91 583.1,1425.44 609.3,1313.5" fill="none" stroke="#bfa19c" stroke-width="2.29" stroke-dasharray="17.89 5.07" stroke-linejoin="round"/>
<polyline points="163.9,1650.6 190.1,1649.65 216.3,1641.51 242.5,1629.13 268.7,1614.85 294.9,1598.77 321.1,1584.86 347.3,1571.97 373.5,1554.33 399.7,1537.37 425.9,1522.11 452.1,1505.83 478.3,1489.88 504.5,1471.91 530.7,1448.84 556.9,1420.18 583.1,1375.57 609.3,1313.5" fill="none" stroke="#f3dc16" stroke-width="2.29" stroke-dasharray="17.89 5.07" stroke-linejoin="round"/>
<polyline points="163.9,1516.68 190.1,1327.41 216.3,1317.57 242.5,1315.2 268.7,1314.18 294.9,1313.84 321.1,1313.5 347.3,1313.5 373.5,1313.5 399.7,1313.5 425.9,1313.5 452.1,1313.5 478.3,1313.5 504.5,1313.5 530.7,1313.5 556.9,1313.5 583.1,1313.5 609.3,1313.5" fill="none" stroke="#d9e6eb" stroke-width="2.29" stroke-dasharray="17.89 5.07" stroke-linejoin="round"/>
<polyline points="163.9,1650.6 190.1,1650.6 216.3,1650.6 242.5,1648.77 268.7,1643.54 294.9,1634.38 321.1,1622.17 347.3,1604.19 373.5,1579.09 399.7,1550.94 425.9,1514.82 452.1,1477.33 478.3,1443.41 504.5,1409.49 530.7,1377.27 556.9,1348.78 583.1,1327.41 609.3,1313.5" fill="none" stroke="#1a476f" stroke-width="2.29" stroke-dasharray="17.89 5.07" stroke-linejoin="round"/>
<polyline points="163.9,1650.6 190.1,1650.6 216.3,1650.6 242.5,1650.6 268.7,1649.65 294.9,1645.24 321.1,1634.38 347.3,1616.74 373.5,1593.34 399.7,1568.41 425.9,1538.05 452.1,1505.83 478.3,1470.21 504.5,1430.86 530.7,1391.52 556.9,1354.2 583.1,1325.51 609.3,1313.5" fill="none" stroke="#90353b" stroke-width="2.29" stroke-dasharray="17.89 5.07" stroke-linejoin="round"/>
<polyline points="163.9,1642.52 190.1,1629.97 216.3,1511.25 242.5,1436.29 268.7,1389.82 294.9,1364.72 321.1,1350.47 347.3,1340.64 373.5,1333.51 399.7,1329.44 425.9,1324.69 452.1,1320.96 478.3,1318.25 504.5,1316.55 530.7,1315.2 556.9,1314.52 583.1,1314.18 609.3,1313.5" fill="none" stroke="#55752f" stroke-width="2.29" stroke-dasharray="17.89 5.07" stroke-linejoin="round"/>
<rect x="317.6" y="1695.4" width="162" height="173.6" fill="#c9c9c9" opacity="0.55"/>
<rect x="316.6" y="1694.4" width="161.9" height="173.7" fill="#ffffff" stroke="#c4c4c4" stroke-width="0.9"/>
<path d="M319.9 1703.9 h18.1 m4.9 0 h6.9" stroke="#1a476f" stroke-width="2.2" fill="none"/>
<text transform="translate(359,1707.93) scale(0.725,1)" font-family='"Liberation Sans", sans-serif' font-size="11.03" text-anchor="start" fill="#1c1c1c" stroke="#1c1c1c" stroke-width="0.28">CRT</text>
<path d="M405.3 1703.9 h18.1 m4.9 0 h6.9" stroke="#90353b" stroke-width="2.2" fill="none"/>
<text transform="translate(444.8,1707.93) scale(0.725,1)" font-family='"Liberation Sans", sans-serif' font-size="11.03" text-anchor="start" fill="#1c1c1c" stroke="#1c1c1c" stroke-width="0.28">CNT</text>
<path d="M319.9 1723.21 h18.1 m4.9 0 h6.9" stroke="#55752f" stroke-width="2.2" fill="none"/>
<text transform="translate(359,1727.24) scale(0.725,1)" font-family='"Liberation Sans", sans-serif' font-size="11.03" text-anchor="start" fill="#1c1c1c" stroke="#1c1c1c" stroke-width="0.28">CKT</text>
<path d="M405.3 1723.21 h18.1 m4.9 0 h6.9" stroke="#e37e00" stroke-width="2.2" fill="none"/>
<text transform="translate(444.8,1727.24) scale(0.725,1)" font-family='"Liberation Sans", sans-serif' font-size="11.03" text-anchor="start" fill="#1c1c1c" stroke="#1c1c1c" stroke-width="0.28">BTT</text>
<path d="M319.9 1742.52 h18.1 m4.9 0 h6.9" stroke="#6e8e84" stroke-width="2.2" fill="none"/>
<text transform="translate(359,1746.55) scale(0.725,1)" font-family='"Liberation Sans", sans-serif' font-size="11.03" text-anchor="start" fill="#1c1c1c" stroke="#1c1c1c" stroke-width="0.28">GTT</text>
<path d="M405.3 1742.52 h18.1 m4.9 0 h6.9" stroke="#c10534" stroke-width="2.2" fill="none"/>
<text transform="translate(444.8,1746.55) scale(0.725,1)" font-family='"Liberation Sans", sans-serif' font-size="11.03" text-anchor="start" fill="#1c1c1c" stroke="#1c1c1c" stroke-width="0.28">MBET</text>
<path d="M319.9 1761.83 h18.1 m4.9 0 h6.9" stroke="#938dd2" stroke-width="2.2" fill="none"/>
<text transform="translate(359,1765.86) scale(0.725,1)" font-family='"Liberation Sans", sans-serif' font-size="11.03" text-anchor="start" fill="#1c1c1c" stroke="#1c1c1c" stroke-width="0.28">TCRT</text>
<path d="M405.3 1761.83 h18.1 m4.9 0 h6.9" stroke="#cac27e" stroke-width="2.2" fill="none"/>
<text transform="translate(444.8,1765.86) scale(0.725,1)" font-family='"Liberation Sans", sans-serif' font-size="11.03" text-anchor="start" fill="#1c1c1c" stroke="#1c1c1c" stroke-width="0.28">SSMT</text>
<path d="M319.9 1781.14 h18.1 m4.9 0 h6.9" stroke="#a0522d" stroke-width="2.2" fill="none"/>
<text transform="translate(359,1785.17) scale(0.725,1)" font-family='"Liberation Sans", sans-serif' font-size="11.03" text-anchor="start" fill="#1c1c1c" stroke="#1c1c1c" stroke-width="0.28">XRRT</text>
<path d="M405.3 1781.14 h18.1 m4.9 0 h6.9" stroke="#7b92a8" stroke-width="2.2" fill="none"/>
<text transform="translate(444.8,1785.17) scale(0.725,1)" font-family='"Liberation Sans", sans-serif' font-size="11.03" text-anchor="start" fill="#1c1c1c" stroke="#1c1c1c" stroke-width="0.28">EART</text>
<path d="M319.9 1800.45 h18.1 m4.9 0 h6.9" stroke="#2d6d66" stroke-width="2.2" fill="none"/>
<text transform="translate(359,1804.48) scale(0.725,1)" font-family='"Liberation Sans", sans-serif' font-size="11.03" text-anchor="start" fill="#1c1c1c" stroke="#1c1c1c" stroke-width="0.28">CMDT</text>
<path d="M405.3 1800.45 h18.1 m4.9 0 h6.9" stroke="#9c8847" stroke-width="2.2" fill="none"/>
<text transform="translate(444.8,1804.48) scale(0.725,1)" font-family='"Liberation Sans", sans-serif' font-size="11.03" text-anchor="start" fill="#1c1c1c" stroke="#1c1c1c" stroke-width="0.28">ULRT</text>
<path d="M319.9 1819.76 h18.1 m4.9 0 h6.9" stroke="#bfa19c" stroke-width="2.2" fill="none"/>
<text transform="translate(359,1823.79) scale(0.725,1)" font-family='"Liberation Sans", sans-serif' font-size="11.03" text-anchor="start" fill="#1c1c1c" stroke="#1c1c1c" stroke-width="0.28">HRT</text>
<path d="M405.3 1819.76 h18.1 m4.9 0 h6.9" stroke="#f3dc16" stroke-width="2.2" fill="none"/>
<text transform="translate(444.8,1823.79) scale(0.725,1)" font-family='"Liberation Sans", sans-serif' font-size="11.03" text-anchor="start" fill="#1c1c1c" stroke="#1c1c1c" stroke-width="0.28">AOT</text>
<path d="M319.9 1839.07 h18.1 m4.9 0 h6.9" stroke="#d9e6eb" stroke-width="2.2" fill="none"/>
<text transform="translate(359,1843.1) scale(0.725,1)" font-family='"Liberation Sans", sans-serif' font-size="11.03" text-anchor="start" fill="#1c1c1c" stroke="#1c1c1c" stroke-width="0.28">RTRT</text>
<path d="M405.3 1839.07 h18.1 m4.9 0 h6.9" stroke="#1a476f" stroke-width="2.2" fill="none"/>
<text transform="translate(444.8,1843.1) scale(0.725,1)" font-family='"Liberation Sans", sans-serif' font-size="11.03" text-anchor="start" fill="#1c1c1c" stroke="#1c1c1c" stroke-width="0.28">CBRT</text>
<path d="M319.9 1858.38 h18.1 m4.9 0 h6.9" stroke="#90353b" stroke-width="2.2" fill="none"/>
<text transform="translate(359,1862.41) scale(0.725,1)" font-family='"Liberation Sans", sans-serif' font-size="11.03" text-anchor="start" fill="#1c1c1c" stroke="#1c1c1c" stroke-width="0.28">ART</text>
<path d="M405.3 1858.38 h18.1 m4.9 0 h6.9" stroke="#55752f" stroke-width="2.2" fill="none"/>
<text transform="translate(444.8,1862.41) scale(0.725,1)" font-family='"Liberation Sans", sans-serif' font-size="11.03" text-anchor="start" fill="#1c1c1c" stroke="#1c1c1c" stroke-width="0.28">HNIBST</text>
<text transform="translate(378.6,1941) scale(0.63,1)" font-family='"Liberation Sans", sans-serif' font-size="29.3" text-anchor="middle" fill="#000" stroke="#000" stroke-width="0.28">F</text>
<text transform="translate(101.8,1484.7) rotate(-90)" font-family='"Liberation Serif", serif' font-weight="bold" font-size="24.7" text-anchor="middle" textLength="247.8" lengthAdjust="spacingAndGlyphs" fill="#000">Cumalative Probability</text>
</g>
</svg>
</body></html>
